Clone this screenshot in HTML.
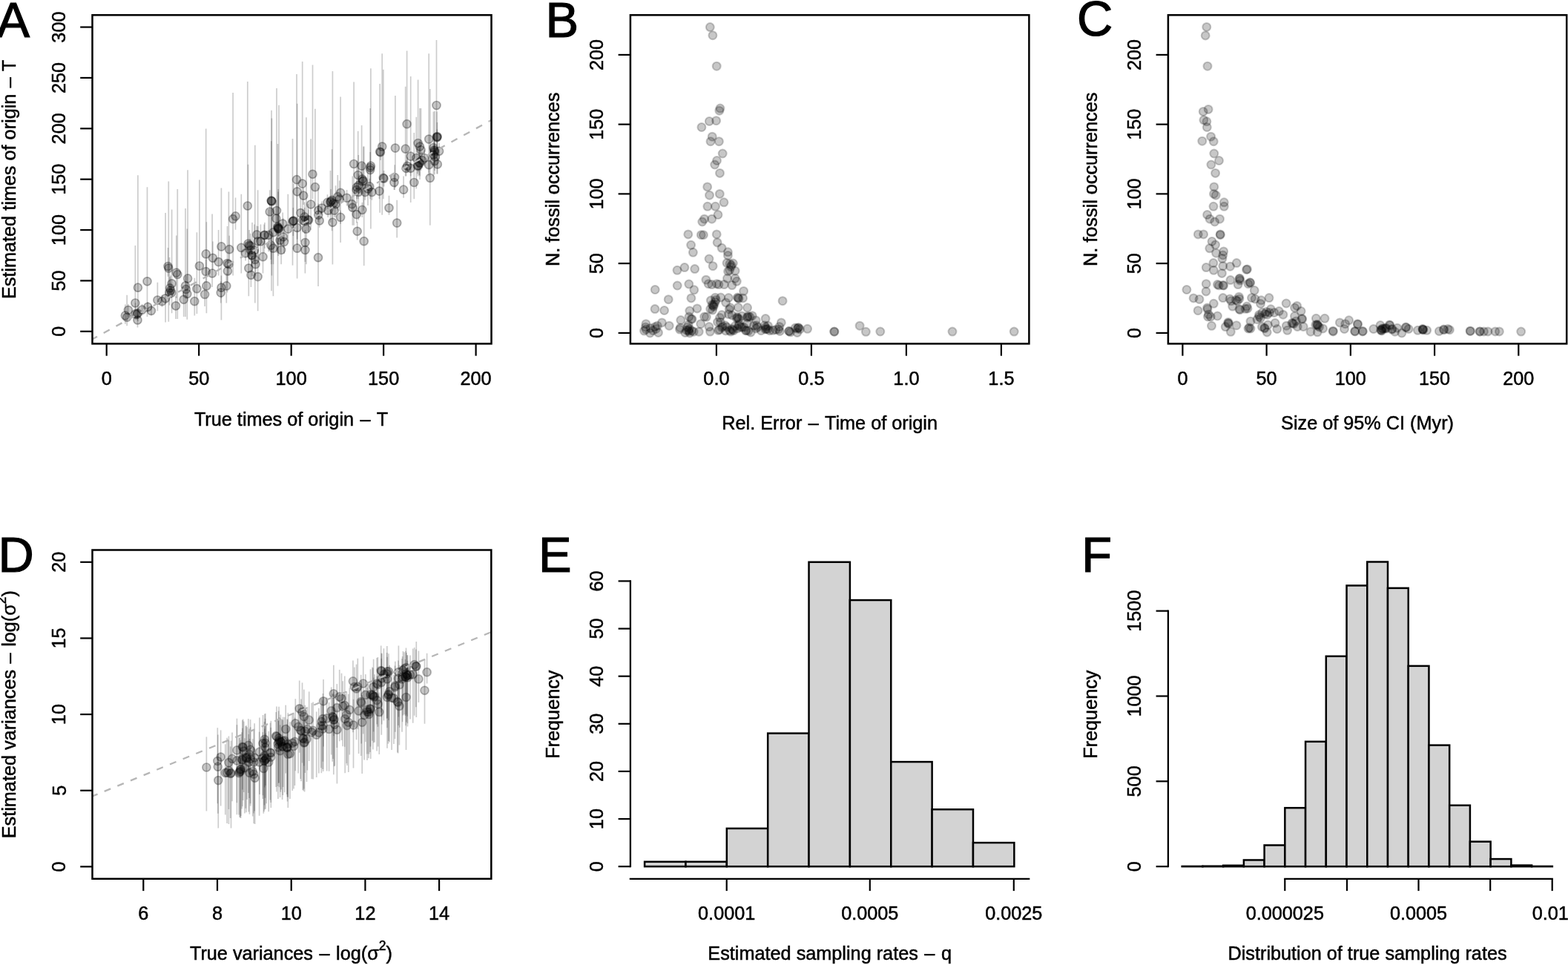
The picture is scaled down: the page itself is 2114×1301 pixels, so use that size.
<!DOCTYPE html>
<html><head><meta charset="utf-8"><title>Figure</title>
<style>
html,body{margin:0;padding:0;background:#fff;}
body{width:2114px;height:1301px;overflow:hidden;}
svg{display:block;font-family:'Liberation Sans', sans-serif;fill:#000;}
text{stroke:#000;stroke-width:0.5px;}
</style></head>
<body>
<svg width="2114" height="1301" viewBox="0 0 2114 1301">
<rect width="2114" height="1301" fill="#fff" stroke="none"/>
<clipPath id="cA"><rect x="124.5" y="20.3" width="538.0" height="443.09999999999997"/></clipPath>
<g clip-path="url(#cA)">
<g stroke="#000" stroke-opacity="0.2" stroke-width="1.7">
<line x1="171.2" y1="397.7" x2="171.2" y2="439.2"/>
<line x1="172.9" y1="410.0" x2="172.9" y2="426.9"/>
<line x1="182.4" y1="330.9" x2="182.4" y2="417.7"/>
<line x1="185.5" y1="423.8" x2="185.5" y2="441.5"/>
<line x1="185.5" y1="414.6" x2="185.5" y2="430.0"/>
<line x1="184.7" y1="416.1" x2="184.7" y2="431.5"/>
<line x1="191.6" y1="410.0" x2="191.6" y2="425.4"/>
<line x1="199.3" y1="406.9" x2="199.3" y2="420.8"/>
<line x1="203.9" y1="411.5" x2="203.9" y2="425.4"/>
<line x1="185.9" y1="236.2" x2="185.9" y2="433.0"/>
<line x1="198.5" y1="252.2" x2="198.5" y2="426.9"/>
<line x1="212.4" y1="380.8" x2="212.4" y2="419.2"/>
<line x1="218.5" y1="397.7" x2="218.5" y2="413.8"/>
<line x1="227.3" y1="244.5" x2="227.3" y2="433.8"/>
<line x1="228.5" y1="347.0" x2="228.5" y2="411.5"/>
<line x1="230.0" y1="371.6" x2="230.0" y2="402.3"/>
<line x1="231.6" y1="282.4" x2="231.6" y2="422.3"/>
<line x1="237.0" y1="399.2" x2="237.0" y2="430.0"/>
<line x1="239.3" y1="254.9" x2="239.3" y2="430.0"/>
<line x1="247.7" y1="386.9" x2="247.7" y2="426.9"/>
<line x1="250.0" y1="280.9" x2="250.0" y2="426.9"/>
<line x1="250.8" y1="371.6" x2="250.8" y2="402.3"/>
<line x1="252.3" y1="308.6" x2="252.3" y2="430.7"/>
<line x1="253.1" y1="229.3" x2="253.1" y2="402.3"/>
<line x1="262.3" y1="374.7" x2="262.3" y2="425.4"/>
<line x1="265.4" y1="313.2" x2="265.4" y2="423.1"/>
<line x1="268.9" y1="242.5" x2="268.9" y2="386.9"/>
<line x1="276.1" y1="379.3" x2="276.1" y2="413.1"/>
<line x1="277.7" y1="173.5" x2="277.7" y2="371.6"/>
<line x1="277.7" y1="350.1" x2="277.7" y2="380.8"/>
<line x1="278.4" y1="299.3" x2="278.4" y2="422.3"/>
<line x1="286.1" y1="288.6" x2="286.1" y2="386.9"/>
<line x1="286.9" y1="325.5" x2="286.9" y2="363.9"/>
<line x1="294.6" y1="310.1" x2="294.6" y2="371.6"/>
<line x1="298.4" y1="253.5" x2="298.4" y2="431.5"/>
<line x1="297.7" y1="379.3" x2="297.7" y2="408.5"/>
<line x1="298.4" y1="371.6" x2="298.4" y2="402.3"/>
<line x1="305.3" y1="368.5" x2="305.3" y2="408.5"/>
<line x1="306.9" y1="350.1" x2="306.9" y2="380.8"/>
<line x1="308.4" y1="258.5" x2="308.4" y2="371.6"/>
<line x1="309.2" y1="317.8" x2="309.2" y2="350.1"/>
<line x1="314.1" y1="125.1" x2="314.1" y2="371.6"/>
<line x1="325.3" y1="261.8" x2="325.3" y2="368.5"/>
<line x1="333.8" y1="110.0" x2="333.8" y2="340.8"/>
<line x1="334.5" y1="221.7" x2="334.5" y2="343.9"/>
<line x1="337.6" y1="314.7" x2="337.6" y2="345.5"/>
<line x1="335.3" y1="340.8" x2="335.3" y2="399.2"/>
<line x1="338.4" y1="356.2" x2="338.4" y2="386.9"/>
<line x1="339.2" y1="325.5" x2="339.2" y2="359.3"/>
<line x1="343.8" y1="195.8" x2="343.8" y2="408.5"/>
<line x1="344.5" y1="340.8" x2="344.5" y2="371.6"/>
<line x1="347.6" y1="256.3" x2="347.6" y2="419.2"/>
<line x1="351.4" y1="302.4" x2="351.4" y2="340.8"/>
<line x1="354.5" y1="325.5" x2="354.5" y2="368.5"/>
<line x1="356.1" y1="302.4" x2="356.1" y2="340.8"/>
<line x1="366.0" y1="148.7" x2="366.0" y2="392.3"/>
<line x1="366.4" y1="159.5" x2="366.4" y2="371.6"/>
<line x1="365.7" y1="190.2" x2="365.7" y2="356.2"/>
<line x1="363.7" y1="256.3" x2="363.7" y2="325.5"/>
<line x1="368.4" y1="279.4" x2="368.4" y2="399.2"/>
<line x1="368.4" y1="317.8" x2="368.4" y2="356.2"/>
<line x1="373.0" y1="118.9" x2="373.0" y2="340.8"/>
<line x1="374.5" y1="194.1" x2="374.5" y2="385.4"/>
<line x1="376.0" y1="141.7" x2="376.0" y2="325.5"/>
<line x1="377.6" y1="310.1" x2="377.6" y2="340.8"/>
<line x1="379.1" y1="322.4" x2="379.1" y2="356.2"/>
<line x1="388.3" y1="261.8" x2="388.3" y2="325.5"/>
<line x1="394.5" y1="186.9" x2="394.5" y2="357.7"/>
<line x1="400.6" y1="310.1" x2="400.6" y2="375.4"/>
<line x1="400.6" y1="291.7" x2="400.6" y2="322.4"/>
<line x1="405.2" y1="261.8" x2="405.2" y2="325.5"/>
<line x1="408.3" y1="282.4" x2="408.3" y2="313.2"/>
<line x1="411.4" y1="310.1" x2="411.4" y2="368.5"/>
<line x1="411.4" y1="322.4" x2="411.4" y2="353.1"/>
<line x1="412.9" y1="158.3" x2="412.9" y2="356.2"/>
<line x1="416.0" y1="282.4" x2="416.0" y2="313.2"/>
<line x1="419.1" y1="187.2" x2="419.1" y2="310.1"/>
<line x1="223.1" y1="287.1" x2="223.1" y2="434.6"/>
<line x1="400.0" y1="99.9" x2="400.0" y2="283.7"/>
<line x1="400.7" y1="139.8" x2="400.7" y2="329.9"/>
<line x1="407.7" y1="83.0" x2="407.7" y2="299.0"/>
<line x1="409.2" y1="252.9" x2="409.2" y2="276.0"/>
<line x1="421.5" y1="87.6" x2="421.5" y2="268.3"/>
<line x1="424.9" y1="146.8" x2="424.9" y2="283.7"/>
<line x1="429.2" y1="274.5" x2="429.2" y2="292.9"/>
<line x1="433.8" y1="271.4" x2="433.8" y2="289.8"/>
<line x1="429.2" y1="280.6" x2="429.2" y2="299.0"/>
<line x1="430.7" y1="288.3" x2="430.7" y2="306.7"/>
<line x1="441.5" y1="262.2" x2="441.5" y2="283.7"/>
<line x1="442.2" y1="274.5" x2="442.2" y2="292.9"/>
<line x1="447.6" y1="201.3" x2="447.6" y2="311.3"/>
<line x1="449.2" y1="265.2" x2="449.2" y2="283.7"/>
<line x1="448.4" y1="96.0" x2="448.4" y2="356.4"/>
<line x1="450.7" y1="274.5" x2="450.7" y2="292.9"/>
<line x1="455.3" y1="236.0" x2="455.3" y2="283.7"/>
<line x1="459.1" y1="130.6" x2="459.1" y2="326.9"/>
<line x1="459.1" y1="283.7" x2="459.1" y2="302.1"/>
<line x1="467.6" y1="256.0" x2="467.6" y2="277.5"/>
<line x1="474.5" y1="265.2" x2="474.5" y2="285.2"/>
<line x1="475.3" y1="237.6" x2="475.3" y2="303.7"/>
<line x1="477.1" y1="110.6" x2="477.1" y2="303.7"/>
<line x1="480.7" y1="243.7" x2="480.7" y2="268.3"/>
<line x1="480.7" y1="277.5" x2="480.7" y2="300.6"/>
<line x1="481.7" y1="299.0" x2="481.7" y2="323.6"/>
<line x1="482.7" y1="176.7" x2="482.7" y2="268.3"/>
<line x1="487.6" y1="169.0" x2="487.6" y2="260.6"/>
<line x1="488.3" y1="272.9" x2="488.3" y2="292.9"/>
<line x1="489.9" y1="197.5" x2="489.9" y2="283.7"/>
<line x1="489.1" y1="234.5" x2="489.1" y2="254.5"/>
<line x1="490.7" y1="197.5" x2="490.7" y2="358.2"/>
<line x1="492.2" y1="248.3" x2="492.2" y2="269.8"/>
<line x1="498.3" y1="240.7" x2="498.3" y2="262.2"/>
<line x1="499.1" y1="146.0" x2="499.1" y2="268.3"/>
<line x1="499.9" y1="92.2" x2="499.9" y2="308.4"/>
<line x1="501.4" y1="248.3" x2="501.4" y2="269.8"/>
<line x1="511.4" y1="246.8" x2="511.4" y2="268.3"/>
<line x1="512.2" y1="112.9" x2="512.2" y2="286.8"/>
<line x1="512.9" y1="194.5" x2="512.9" y2="216.1"/>
<line x1="515.2" y1="72.2" x2="515.2" y2="289.8"/>
<line x1="516.8" y1="93.7" x2="516.8" y2="268.3"/>
<line x1="517.5" y1="229.9" x2="517.5" y2="251.4"/>
<line x1="524.5" y1="263.7" x2="524.5" y2="289.8"/>
<line x1="531.4" y1="236.0" x2="531.4" y2="256.0"/>
<line x1="532.1" y1="222.2" x2="532.1" y2="256.0"/>
<line x1="532.9" y1="129.1" x2="532.9" y2="252.9"/>
<line x1="535.2" y1="269.8" x2="535.2" y2="320.4"/>
<line x1="544.1" y1="237.6" x2="544.1" y2="266.8"/>
<line x1="546.7" y1="116.8" x2="546.7" y2="237.6"/>
<line x1="547.5" y1="216.1" x2="547.5" y2="237.6"/>
<line x1="548.6" y1="68.4" x2="548.6" y2="229.9"/>
<line x1="553.7" y1="103.0" x2="553.7" y2="272.9"/>
<line x1="553.7" y1="216.1" x2="553.7" y2="237.6"/>
<line x1="558.3" y1="179.0" x2="558.3" y2="268.3"/>
<line x1="561.3" y1="157.7" x2="561.3" y2="254.5"/>
<line x1="562.9" y1="213.0" x2="562.9" y2="234.5"/>
<line x1="563.6" y1="107.6" x2="563.6" y2="237.6"/>
<line x1="566.0" y1="146.0" x2="566.0" y2="237.6"/>
<line x1="567.5" y1="146.0" x2="567.5" y2="229.9"/>
<line x1="569.0" y1="205.3" x2="569.0" y2="226.8"/>
<line x1="572.1" y1="202.2" x2="572.1" y2="223.7"/>
<line x1="578.2" y1="72.2" x2="578.2" y2="237.6"/>
<line x1="578.2" y1="211.5" x2="578.2" y2="233.0"/>
<line x1="579.8" y1="119.9" x2="579.8" y2="303.7"/>
<line x1="584.4" y1="150.6" x2="584.4" y2="237.6"/>
<line x1="585.9" y1="194.5" x2="585.9" y2="216.1"/>
<line x1="586.7" y1="200.7" x2="586.7" y2="222.2"/>
<line x1="588.5" y1="54.1" x2="588.5" y2="191.5"/>
<line x1="589.0" y1="150.6" x2="589.0" y2="234.5"/>
<line x1="589.3" y1="174.6" x2="589.3" y2="196.1"/>
<line x1="589.8" y1="209.9" x2="589.8" y2="234.5"/>
<line x1="592.1" y1="193.0" x2="592.1" y2="214.5"/>
<line x1="429.0" y1="253.1" x2="429.0" y2="385.9"/>
<line x1="374.6" y1="290.0" x2="374.6" y2="330.0"/>
<line x1="375.2" y1="255.0" x2="375.2" y2="345.0"/>
<line x1="395.3" y1="280.0" x2="395.3" y2="318.0"/>
<line x1="336.1" y1="310.0" x2="336.1" y2="350.0"/>
<line x1="340.0" y1="300.0" x2="340.0" y2="372.0"/>
<line x1="356.9" y1="300.0" x2="356.9" y2="335.0"/>
<line x1="347.7" y1="305.0" x2="347.7" y2="345.0"/>
<line x1="383.0" y1="308.0" x2="383.0" y2="342.0"/>
<line x1="372.3" y1="270.0" x2="372.3" y2="315.0"/>
<line x1="365.3" y1="315.0" x2="365.3" y2="350.0"/>
<line x1="446.0" y1="255.0" x2="446.0" y2="290.0"/>
<line x1="445.5" y1="230.0" x2="445.5" y2="300.0"/>
<line x1="410.7" y1="280.0" x2="410.7" y2="315.0"/>
<line x1="415.3" y1="275.0" x2="415.3" y2="312.0"/>
<line x1="585.3" y1="180.0" x2="585.3" y2="222.0"/>
<line x1="586.0" y1="150.0" x2="586.0" y2="230.0"/>
<line x1="565.3" y1="200.0" x2="565.3" y2="236.0"/>
<line x1="566.0" y1="190.0" x2="566.0" y2="242.0"/>
<line x1="488.4" y1="220.0" x2="488.4" y2="262.0"/>
<line x1="589.5" y1="165.0" x2="589.5" y2="200.0"/>
<line x1="499.2" y1="205.0" x2="499.2" y2="246.0"/>
<line x1="331.0" y1="326.3" x2="331.0" y2="351.5"/>
<line x1="337.4" y1="322.0" x2="337.4" y2="346.1"/>
<line x1="362.1" y1="281.9" x2="362.1" y2="339.3"/>
<line x1="342.9" y1="302.4" x2="342.9" y2="355.6"/>
<line x1="346.2" y1="304.4" x2="346.2" y2="325.7"/>
<line x1="381.8" y1="294.3" x2="381.8" y2="333.7"/>
<line x1="381.2" y1="286.6" x2="381.2" y2="309.9"/>
<line x1="375.0" y1="258.5" x2="375.0" y2="340.6"/>
<line x1="496.0" y1="219.5" x2="496.0" y2="277.0"/>
<line x1="483.3" y1="208.9" x2="483.3" y2="296.8"/>
<line x1="483.6" y1="234.9" x2="483.6" y2="260.3"/>
<line x1="481.1" y1="217.3" x2="481.1" y2="273.9"/>
<line x1="563.9" y1="211.3" x2="563.9" y2="231.7"/>
<line x1="584.6" y1="196.7" x2="584.6" y2="215.3"/>
<line x1="585.9" y1="182.3" x2="585.9" y2="235.3"/>
<line x1="549.1" y1="211.8" x2="549.1" y2="232.8"/>
<line x1="410.6" y1="272.4" x2="410.6" y2="305.2"/>
<line x1="395.8" y1="247.8" x2="395.8" y2="336.6"/>
<line x1="452.5" y1="250.3" x2="452.5" y2="293.2"/>
<line x1="457.7" y1="243.4" x2="457.7" y2="283.9"/>
<line x1="306.5" y1="305.1" x2="306.5" y2="394.2"/>
<line x1="317.5" y1="266.4" x2="317.5" y2="309.7"/>
<line x1="231.2" y1="382.8" x2="231.2" y2="402.1"/>
<line x1="229.1" y1="373.4" x2="229.1" y2="395.9"/>
<line x1="226.5" y1="334.0" x2="226.5" y2="372.7"/>
<line x1="182.6" y1="408.2" x2="182.6" y2="431.3"/>
<line x1="168.9" y1="410.4" x2="168.9" y2="436.8"/>
<line x1="237.8" y1="317.6" x2="237.8" y2="402.0"/>
</g>
<g fill="#000" fill-opacity="0.22" stroke="#000" stroke-opacity="0.3" stroke-width="1.7">
<circle cx="171.2" cy="427.7" r="5.5"/>
<circle cx="172.9" cy="418.1" r="5.5"/>
<circle cx="182.4" cy="408.5" r="5.5"/>
<circle cx="185.5" cy="431.5" r="5.5"/>
<circle cx="185.5" cy="422.3" r="5.5"/>
<circle cx="184.7" cy="423.8" r="5.5"/>
<circle cx="191.6" cy="417.7" r="5.5"/>
<circle cx="199.3" cy="413.8" r="5.5"/>
<circle cx="203.9" cy="418.9" r="5.5"/>
<circle cx="185.9" cy="387.7" r="5.5"/>
<circle cx="198.5" cy="379.3" r="5.5"/>
<circle cx="212.4" cy="404.6" r="5.5"/>
<circle cx="218.5" cy="406.2" r="5.5"/>
<circle cx="227.3" cy="361.6" r="5.5"/>
<circle cx="228.5" cy="394.6" r="5.5"/>
<circle cx="230.0" cy="391.6" r="5.5"/>
<circle cx="231.6" cy="382.3" r="5.5"/>
<circle cx="237.0" cy="412.3" r="5.5"/>
<circle cx="239.3" cy="370.0" r="5.5"/>
<circle cx="247.7" cy="403.8" r="5.5"/>
<circle cx="250.0" cy="385.4" r="5.5"/>
<circle cx="250.8" cy="390.0" r="5.5"/>
<circle cx="252.3" cy="396.2" r="5.5"/>
<circle cx="253.1" cy="375.4" r="5.5"/>
<circle cx="262.3" cy="406.2" r="5.5"/>
<circle cx="265.4" cy="389.2" r="5.5"/>
<circle cx="268.9" cy="358.5" r="5.5"/>
<circle cx="276.1" cy="396.9" r="5.5"/>
<circle cx="277.7" cy="342.4" r="5.5"/>
<circle cx="277.7" cy="366.2" r="5.5"/>
<circle cx="278.4" cy="385.4" r="5.5"/>
<circle cx="286.1" cy="368.5" r="5.5"/>
<circle cx="286.9" cy="347.8" r="5.5"/>
<circle cx="294.6" cy="353.1" r="5.5"/>
<circle cx="298.4" cy="332.4" r="5.5"/>
<circle cx="297.7" cy="394.6" r="5.5"/>
<circle cx="298.4" cy="387.7" r="5.5"/>
<circle cx="305.3" cy="385.4" r="5.5"/>
<circle cx="306.9" cy="365.4" r="5.5"/>
<circle cx="308.4" cy="356.2" r="5.5"/>
<circle cx="309.2" cy="336.2" r="5.5"/>
<circle cx="314.1" cy="295.2" r="5.5"/>
<circle cx="325.3" cy="333.9" r="5.5"/>
<circle cx="333.8" cy="277.5" r="5.5"/>
<circle cx="334.5" cy="328.5" r="5.5"/>
<circle cx="337.6" cy="331.6" r="5.5"/>
<circle cx="335.3" cy="361.6" r="5.5"/>
<circle cx="338.4" cy="370.8" r="5.5"/>
<circle cx="339.2" cy="343.9" r="5.5"/>
<circle cx="343.8" cy="350.1" r="5.5"/>
<circle cx="344.5" cy="356.2" r="5.5"/>
<circle cx="347.6" cy="373.1" r="5.5"/>
<circle cx="351.4" cy="325.5" r="5.5"/>
<circle cx="354.5" cy="346.2" r="5.5"/>
<circle cx="356.1" cy="317.0" r="5.5"/>
<circle cx="366.0" cy="270.9" r="5.5"/>
<circle cx="366.4" cy="271.4" r="5.5"/>
<circle cx="365.7" cy="270.5" r="5.5"/>
<circle cx="363.7" cy="285.5" r="5.5"/>
<circle cx="368.4" cy="313.2" r="5.5"/>
<circle cx="368.4" cy="334.7" r="5.5"/>
<circle cx="373.0" cy="284.0" r="5.5"/>
<circle cx="374.5" cy="305.5" r="5.5"/>
<circle cx="376.0" cy="308.6" r="5.5"/>
<circle cx="377.6" cy="323.9" r="5.5"/>
<circle cx="379.1" cy="337.0" r="5.5"/>
<circle cx="388.3" cy="308.6" r="5.5"/>
<circle cx="394.5" cy="298.6" r="5.5"/>
<circle cx="400.6" cy="334.7" r="5.5"/>
<circle cx="400.6" cy="307.0" r="5.5"/>
<circle cx="405.2" cy="287.1" r="5.5"/>
<circle cx="408.3" cy="297.0" r="5.5"/>
<circle cx="411.4" cy="327.0" r="5.5"/>
<circle cx="411.4" cy="337.0" r="5.5"/>
<circle cx="412.9" cy="308.6" r="5.5"/>
<circle cx="416.0" cy="297.0" r="5.5"/>
<circle cx="419.1" cy="275.5" r="5.5"/>
<circle cx="223.1" cy="402.3" r="5.5"/>
<circle cx="400.0" cy="242.2" r="5.5"/>
<circle cx="400.7" cy="258.3" r="5.5"/>
<circle cx="407.7" cy="247.6" r="5.5"/>
<circle cx="409.2" cy="263.7" r="5.5"/>
<circle cx="421.5" cy="234.8" r="5.5"/>
<circle cx="424.9" cy="252.2" r="5.5"/>
<circle cx="429.2" cy="283.7" r="5.5"/>
<circle cx="433.8" cy="280.6" r="5.5"/>
<circle cx="429.2" cy="289.8" r="5.5"/>
<circle cx="430.7" cy="297.5" r="5.5"/>
<circle cx="441.5" cy="272.9" r="5.5"/>
<circle cx="442.2" cy="283.7" r="5.5"/>
<circle cx="447.6" cy="269.8" r="5.5"/>
<circle cx="449.2" cy="274.5" r="5.5"/>
<circle cx="448.4" cy="299.8" r="5.5"/>
<circle cx="450.7" cy="283.7" r="5.5"/>
<circle cx="455.3" cy="265.2" r="5.5"/>
<circle cx="459.1" cy="259.9" r="5.5"/>
<circle cx="459.1" cy="292.9" r="5.5"/>
<circle cx="467.6" cy="266.8" r="5.5"/>
<circle cx="474.5" cy="275.2" r="5.5"/>
<circle cx="475.3" cy="279.8" r="5.5"/>
<circle cx="477.1" cy="221.0" r="5.5"/>
<circle cx="480.7" cy="256.0" r="5.5"/>
<circle cx="480.7" cy="289.1" r="5.5"/>
<circle cx="481.7" cy="311.8" r="5.5"/>
<circle cx="482.7" cy="236.0" r="5.5"/>
<circle cx="487.6" cy="223.7" r="5.5"/>
<circle cx="488.3" cy="282.9" r="5.5"/>
<circle cx="489.9" cy="243.7" r="5.5"/>
<circle cx="489.1" cy="244.5" r="5.5"/>
<circle cx="490.7" cy="325.2" r="5.5"/>
<circle cx="492.2" cy="259.1" r="5.5"/>
<circle cx="498.3" cy="251.4" r="5.5"/>
<circle cx="499.1" cy="229.1" r="5.5"/>
<circle cx="499.9" cy="223.7" r="5.5"/>
<circle cx="501.4" cy="259.1" r="5.5"/>
<circle cx="511.4" cy="257.6" r="5.5"/>
<circle cx="512.2" cy="204.5" r="5.5"/>
<circle cx="512.9" cy="205.3" r="5.5"/>
<circle cx="515.2" cy="197.6" r="5.5"/>
<circle cx="516.8" cy="239.9" r="5.5"/>
<circle cx="517.5" cy="240.7" r="5.5"/>
<circle cx="524.5" cy="280.3" r="5.5"/>
<circle cx="531.4" cy="246.0" r="5.5"/>
<circle cx="532.1" cy="239.1" r="5.5"/>
<circle cx="532.9" cy="199.6" r="5.5"/>
<circle cx="535.2" cy="300.6" r="5.5"/>
<circle cx="544.1" cy="255.7" r="5.5"/>
<circle cx="546.7" cy="200.7" r="5.5"/>
<circle cx="547.5" cy="226.8" r="5.5"/>
<circle cx="548.6" cy="167.2" r="5.5"/>
<circle cx="553.7" cy="210.7" r="5.5"/>
<circle cx="553.7" cy="226.8" r="5.5"/>
<circle cx="558.3" cy="246.0" r="5.5"/>
<circle cx="561.3" cy="213.0" r="5.5"/>
<circle cx="562.9" cy="223.7" r="5.5"/>
<circle cx="563.6" cy="193.0" r="5.5"/>
<circle cx="566.0" cy="197.6" r="5.5"/>
<circle cx="567.5" cy="202.2" r="5.5"/>
<circle cx="569.0" cy="216.1" r="5.5"/>
<circle cx="572.1" cy="213.0" r="5.5"/>
<circle cx="578.2" cy="187.6" r="5.5"/>
<circle cx="578.2" cy="222.2" r="5.5"/>
<circle cx="579.8" cy="239.9" r="5.5"/>
<circle cx="584.4" cy="199.2" r="5.5"/>
<circle cx="585.9" cy="205.3" r="5.5"/>
<circle cx="586.7" cy="211.5" r="5.5"/>
<circle cx="588.5" cy="142.0" r="5.5"/>
<circle cx="589.0" cy="184.6" r="5.5"/>
<circle cx="589.3" cy="185.3" r="5.5"/>
<circle cx="589.8" cy="221.4" r="5.5"/>
<circle cx="592.1" cy="203.8" r="5.5"/>
<circle cx="429.0" cy="347.2" r="5.5"/>
<circle cx="374.6" cy="306.9" r="5.5"/>
<circle cx="375.2" cy="307.5" r="5.5"/>
<circle cx="395.3" cy="297.7" r="5.5"/>
<circle cx="336.1" cy="330.7" r="5.5"/>
<circle cx="340.0" cy="344.5" r="5.5"/>
<circle cx="356.9" cy="316.9" r="5.5"/>
<circle cx="347.7" cy="325.3" r="5.5"/>
<circle cx="383.0" cy="326.1" r="5.5"/>
<circle cx="372.3" cy="294.6" r="5.5"/>
<circle cx="365.3" cy="330.7" r="5.5"/>
<circle cx="446.0" cy="271.5" r="5.5"/>
<circle cx="445.5" cy="272.5" r="5.5"/>
<circle cx="410.7" cy="297.7" r="5.5"/>
<circle cx="415.3" cy="296.1" r="5.5"/>
<circle cx="585.3" cy="202.3" r="5.5"/>
<circle cx="586.0" cy="203.5" r="5.5"/>
<circle cx="565.3" cy="219.2" r="5.5"/>
<circle cx="566.0" cy="220.0" r="5.5"/>
<circle cx="488.4" cy="241.5" r="5.5"/>
<circle cx="589.5" cy="184.0" r="5.5"/>
<circle cx="499.2" cy="226.0" r="5.5"/>
<circle cx="331.0" cy="341.3" r="5.5"/>
<circle cx="337.4" cy="337.0" r="5.5"/>
<circle cx="362.1" cy="316.9" r="5.5"/>
<circle cx="342.9" cy="337.4" r="5.5"/>
<circle cx="346.2" cy="316.4" r="5.5"/>
<circle cx="381.8" cy="319.3" r="5.5"/>
<circle cx="381.2" cy="301.6" r="5.5"/>
<circle cx="375.0" cy="308.5" r="5.5"/>
<circle cx="496.0" cy="254.5" r="5.5"/>
<circle cx="483.3" cy="258.9" r="5.5"/>
<circle cx="483.6" cy="249.9" r="5.5"/>
<circle cx="481.1" cy="252.3" r="5.5"/>
<circle cx="563.9" cy="223.3" r="5.5"/>
<circle cx="584.6" cy="208.7" r="5.5"/>
<circle cx="585.9" cy="217.3" r="5.5"/>
<circle cx="549.1" cy="223.8" r="5.5"/>
<circle cx="410.6" cy="292.4" r="5.5"/>
<circle cx="395.8" cy="297.8" r="5.5"/>
<circle cx="452.5" cy="275.3" r="5.5"/>
<circle cx="457.7" cy="268.4" r="5.5"/>
<circle cx="306.5" cy="355.1" r="5.5"/>
<circle cx="317.5" cy="291.4" r="5.5"/>
<circle cx="231.2" cy="394.8" r="5.5"/>
<circle cx="229.1" cy="388.4" r="5.5"/>
<circle cx="226.5" cy="359.0" r="5.5"/>
<circle cx="182.6" cy="423.2" r="5.5"/>
<circle cx="168.9" cy="425.4" r="5.5"/>
<circle cx="237.8" cy="367.6" r="5.5"/>
</g>
<line x1="124.50" y1="457.35" x2="662.50" y2="161.82" stroke="#b6b6b6" stroke-width="2.3" stroke-dasharray="9.2 9.9" stroke-dashoffset="1.75"/>
</g>
<rect x="124.50" y="20.30" width="538.00" height="443.10" fill="none" stroke="#000" stroke-width="2.5"/>
<line x1="143.70" y1="463.40" x2="143.70" y2="479.70" stroke="#000" stroke-width="2.2" />
<text x="143.70" y="518.60" font-size="25.25" text-anchor="middle" >0</text>
<line x1="268.18" y1="463.40" x2="268.18" y2="479.70" stroke="#000" stroke-width="2.2" />
<text x="268.18" y="518.60" font-size="25.25" text-anchor="middle" >50</text>
<line x1="392.65" y1="463.40" x2="392.65" y2="479.70" stroke="#000" stroke-width="2.2" />
<text x="392.65" y="518.60" font-size="25.25" text-anchor="middle" >100</text>
<line x1="517.12" y1="463.40" x2="517.12" y2="479.70" stroke="#000" stroke-width="2.2" />
<text x="517.12" y="518.60" font-size="25.25" text-anchor="middle" >150</text>
<line x1="641.60" y1="463.40" x2="641.60" y2="479.70" stroke="#000" stroke-width="2.2" />
<text x="641.60" y="518.60" font-size="25.25" text-anchor="middle" >200</text>
<line x1="108.20" y1="446.80" x2="124.50" y2="446.80" stroke="#000" stroke-width="2.2" />
<text x="88.50" y="446.80" font-size="25.25" text-anchor="middle" transform="rotate(-90 88.50 446.80)" >0</text>
<line x1="108.20" y1="378.43" x2="124.50" y2="378.43" stroke="#000" stroke-width="2.2" />
<text x="88.50" y="378.43" font-size="25.25" text-anchor="middle" transform="rotate(-90 88.50 378.43)" >50</text>
<line x1="108.20" y1="310.05" x2="124.50" y2="310.05" stroke="#000" stroke-width="2.2" />
<text x="88.50" y="310.05" font-size="25.25" text-anchor="middle" transform="rotate(-90 88.50 310.05)" >100</text>
<line x1="108.20" y1="241.68" x2="124.50" y2="241.68" stroke="#000" stroke-width="2.2" />
<text x="88.50" y="241.68" font-size="25.25" text-anchor="middle" transform="rotate(-90 88.50 241.68)" >150</text>
<line x1="108.20" y1="173.30" x2="124.50" y2="173.30" stroke="#000" stroke-width="2.2" />
<text x="88.50" y="173.30" font-size="25.25" text-anchor="middle" transform="rotate(-90 88.50 173.30)" >200</text>
<line x1="108.20" y1="104.93" x2="124.50" y2="104.93" stroke="#000" stroke-width="2.2" />
<text x="88.50" y="104.93" font-size="25.25" text-anchor="middle" transform="rotate(-90 88.50 104.93)" >250</text>
<line x1="108.20" y1="36.55" x2="124.50" y2="36.55" stroke="#000" stroke-width="2.2" />
<text x="88.50" y="36.55" font-size="25.25" text-anchor="middle" transform="rotate(-90 88.50 36.55)" >300</text>
<text x="392.50" y="573.70" font-size="25.25" text-anchor="middle" >True times of origin <tspan dx="1.5">–</tspan><tspan dx="1.5"> </tspan>T</text>
<text x="21.50" y="241.85" font-size="25.25" text-anchor="middle" transform="rotate(-90 21.50 241.85)" >Estimated times of origin <tspan dx="1.5">–</tspan><tspan dx="1.5"> </tspan>T</text>
<text x="-4.60" y="50.30" font-size="66.8" text-anchor="start" style="stroke-width:1.2px">A</text>
<g fill="#000" fill-opacity="0.22" stroke="#000" stroke-opacity="0.2" stroke-width="2.0">
<circle cx="957.3" cy="36.6" r="5.5"/>
<circle cx="960.9" cy="47.7" r="5.5"/>
<circle cx="966.2" cy="89.2" r="5.5"/>
<circle cx="970.9" cy="146.1" r="5.5"/>
<circle cx="969.9" cy="149.2" r="5.5"/>
<circle cx="965.6" cy="162.7" r="5.5"/>
<circle cx="956.3" cy="163.5" r="5.5"/>
<circle cx="945.9" cy="171.5" r="5.5"/>
<circle cx="960.2" cy="184.2" r="5.5"/>
<circle cx="958.0" cy="190.7" r="5.5"/>
<circle cx="969.4" cy="190.7" r="5.5"/>
<circle cx="974.2" cy="207.0" r="5.5"/>
<circle cx="966.5" cy="216.5" r="5.5"/>
<circle cx="963.7" cy="222.0" r="5.5"/>
<circle cx="970.5" cy="233.4" r="5.5"/>
<circle cx="953.7" cy="251.9" r="5.5"/>
<circle cx="956.5" cy="263.2" r="5.5"/>
<circle cx="970.3" cy="261.4" r="5.5"/>
<circle cx="976.0" cy="272.8" r="5.5"/>
<circle cx="953.9" cy="278.3" r="5.5"/>
<circle cx="964.5" cy="278.3" r="5.5"/>
<circle cx="968.0" cy="289.5" r="5.5"/>
<circle cx="959.7" cy="295.2" r="5.5"/>
<circle cx="949.6" cy="295.2" r="5.5"/>
<circle cx="946.8" cy="299.0" r="5.5"/>
<circle cx="927.8" cy="315.9" r="5.5"/>
<circle cx="945.3" cy="316.7" r="5.5"/>
<circle cx="948.4" cy="316.7" r="5.5"/>
<circle cx="966.2" cy="315.9" r="5.5"/>
<circle cx="967.1" cy="326.9" r="5.5"/>
<circle cx="931.6" cy="330.3" r="5.5"/>
<circle cx="934.4" cy="340.3" r="5.5"/>
<circle cx="973.1" cy="334.3" r="5.5"/>
<circle cx="981.4" cy="339.8" r="5.5"/>
<circle cx="981.4" cy="344.4" r="5.5"/>
<circle cx="956.0" cy="349.0" r="5.5"/>
<circle cx="961.1" cy="358.7" r="5.5"/>
<circle cx="980.0" cy="354.6" r="5.5"/>
<circle cx="988.3" cy="355.0" r="5.5"/>
<circle cx="985.6" cy="359.7" r="5.5"/>
<circle cx="983.7" cy="364.3" r="5.5"/>
<circle cx="991.1" cy="365.2" r="5.5"/>
<circle cx="922.9" cy="360.6" r="5.5"/>
<circle cx="913.0" cy="364.3" r="5.5"/>
<circle cx="936.7" cy="362.6" r="5.5"/>
<circle cx="951.9" cy="377.2" r="5.5"/>
<circle cx="980.5" cy="375.3" r="5.5"/>
<circle cx="991.1" cy="375.3" r="5.5"/>
<circle cx="955.1" cy="382.7" r="5.5"/>
<circle cx="959.7" cy="383.6" r="5.5"/>
<circle cx="966.2" cy="382.7" r="5.5"/>
<circle cx="969.0" cy="383.6" r="5.5"/>
<circle cx="976.3" cy="383.6" r="5.5"/>
<circle cx="986.9" cy="384.6" r="5.5"/>
<circle cx="928.8" cy="383.0" r="5.5"/>
<circle cx="913.2" cy="385.0" r="5.5"/>
<circle cx="883.2" cy="390.5" r="5.5"/>
<circle cx="935.8" cy="390.8" r="5.5"/>
<circle cx="1002.6" cy="392.4" r="5.5"/>
<circle cx="901.2" cy="403.7" r="5.5"/>
<circle cx="931.9" cy="401.9" r="5.5"/>
<circle cx="883.0" cy="416.6" r="5.5"/>
<circle cx="895.6" cy="418.5" r="5.5"/>
<circle cx="939.9" cy="415.9" r="5.5"/>
<circle cx="929.8" cy="419.1" r="5.5"/>
<circle cx="917.8" cy="431.6" r="5.5"/>
<circle cx="933.0" cy="430.2" r="5.5"/>
<circle cx="949.6" cy="427.0" r="5.5"/>
<circle cx="870.9" cy="436.7" r="5.5"/>
<circle cx="870.3" cy="441.0" r="5.5"/>
<circle cx="870.9" cy="444.1" r="5.5"/>
<circle cx="876.4" cy="449.0" r="5.5"/>
<circle cx="892.4" cy="434.9" r="5.5"/>
<circle cx="886.3" cy="439.2" r="5.5"/>
<circle cx="884.4" cy="443.5" r="5.5"/>
<circle cx="887.5" cy="448.4" r="5.5"/>
<circle cx="902.2" cy="439.2" r="5.5"/>
<circle cx="916.4" cy="444.1" r="5.5"/>
<circle cx="926.8" cy="441.0" r="5.5"/>
<circle cx="925.6" cy="445.3" r="5.5"/>
<circle cx="928.7" cy="446.5" r="5.5"/>
<circle cx="923.8" cy="448.4" r="5.5"/>
<circle cx="929.9" cy="449.0" r="5.5"/>
<circle cx="928.1" cy="437.9" r="5.5"/>
<circle cx="942.2" cy="447.2" r="5.5"/>
<circle cx="944.7" cy="436.7" r="5.5"/>
<circle cx="1055.1" cy="405.7" r="5.5"/>
<circle cx="1042.2" cy="445.3" r="5.5"/>
<circle cx="1053.3" cy="434.9" r="5.5"/>
<circle cx="1050.8" cy="440.4" r="5.5"/>
<circle cx="1049.6" cy="444.1" r="5.5"/>
<circle cx="1051.4" cy="446.5" r="5.5"/>
<circle cx="1063.7" cy="446.5" r="5.5"/>
<circle cx="1065.6" cy="447.8" r="5.5"/>
<circle cx="1076.6" cy="441.9" r="5.5"/>
<circle cx="1078.4" cy="443.8" r="5.5"/>
<circle cx="1074.8" cy="448.4" r="5.5"/>
<circle cx="1088.6" cy="443.3" r="5.5"/>
<circle cx="1124.8" cy="447.0" r="5.5"/>
<circle cx="1124.8" cy="447.2" r="5.5"/>
<circle cx="1159.1" cy="439.2" r="5.5"/>
<circle cx="1167.4" cy="447.3" r="5.5"/>
<circle cx="1186.8" cy="447.0" r="5.5"/>
<circle cx="1284.0" cy="447.1" r="5.5"/>
<circle cx="1367.2" cy="447.1" r="5.5"/>
<circle cx="1063.9" cy="446.5" r="5.5"/>
<circle cx="958.3" cy="405.1" r="5.5"/>
<circle cx="965.2" cy="404.2" r="5.5"/>
<circle cx="964.3" cy="407.0" r="5.5"/>
<circle cx="962.9" cy="410.2" r="5.5"/>
<circle cx="962.0" cy="413.4" r="5.5"/>
<circle cx="960.6" cy="418.1" r="5.5"/>
<circle cx="971.7" cy="401.0" r="5.5"/>
<circle cx="982.3" cy="401.5" r="5.5"/>
<circle cx="994.3" cy="401.0" r="5.5"/>
<circle cx="996.1" cy="402.4" r="5.5"/>
<circle cx="995.2" cy="401.9" r="5.5"/>
<circle cx="1001.6" cy="401.9" r="5.5"/>
<circle cx="978.6" cy="407.9" r="5.5"/>
<circle cx="984.6" cy="414.8" r="5.5"/>
<circle cx="983.2" cy="417.1" r="5.5"/>
<circle cx="995.2" cy="414.4" r="5.5"/>
<circle cx="1007.6" cy="414.8" r="5.5"/>
<circle cx="982.3" cy="423.6" r="5.5"/>
<circle cx="986.9" cy="425.0" r="5.5"/>
<circle cx="993.8" cy="427.3" r="5.5"/>
<circle cx="996.1" cy="430.0" r="5.5"/>
<circle cx="994.7" cy="428.7" r="5.5"/>
<circle cx="1007.6" cy="428.2" r="5.5"/>
<circle cx="1011.3" cy="427.3" r="5.5"/>
<circle cx="952.3" cy="427.3" r="5.5"/>
<circle cx="973.1" cy="424.5" r="5.5"/>
<circle cx="967.5" cy="434.2" r="5.5"/>
<circle cx="956.0" cy="440.6" r="5.5"/>
<circle cx="957.4" cy="447.1" r="5.5"/>
<circle cx="968.4" cy="445.3" r="5.5"/>
<circle cx="977.7" cy="438.8" r="5.5"/>
<circle cx="980.0" cy="441.1" r="5.5"/>
<circle cx="986.9" cy="443.4" r="5.5"/>
<circle cx="989.2" cy="445.7" r="5.5"/>
<circle cx="985.0" cy="447.1" r="5.5"/>
<circle cx="987.8" cy="444.8" r="5.5"/>
<circle cx="996.1" cy="438.8" r="5.5"/>
<circle cx="998.4" cy="441.1" r="5.5"/>
<circle cx="1003.0" cy="441.1" r="5.5"/>
<circle cx="1005.3" cy="445.7" r="5.5"/>
<circle cx="1012.2" cy="448.0" r="5.5"/>
<circle cx="1019.2" cy="431.9" r="5.5"/>
<circle cx="1020.1" cy="438.8" r="5.5"/>
<circle cx="1021.5" cy="441.1" r="5.5"/>
<circle cx="1032.1" cy="429.6" r="5.5"/>
<circle cx="1030.7" cy="438.8" r="5.5"/>
<circle cx="1032.1" cy="441.1" r="5.5"/>
<circle cx="1033.0" cy="443.4" r="5.5"/>
<circle cx="1026.1" cy="445.7" r="5.5"/>
<circle cx="1037.6" cy="445.7" r="5.5"/>
<circle cx="868.5" cy="446.1" r="5.5"/>
<circle cx="883.0" cy="440.7" r="5.5"/>
<circle cx="876.8" cy="442.5" r="5.5"/>
<circle cx="880.4" cy="445.6" r="5.5"/>
<circle cx="935.2" cy="447.2" r="5.5"/>
<circle cx="917.2" cy="441.9" r="5.5"/>
<circle cx="932.8" cy="445.9" r="5.5"/>
<circle cx="929.5" cy="443.3" r="5.5"/>
<circle cx="928.2" cy="445.1" r="5.5"/>
<circle cx="960.1" cy="410.8" r="5.5"/>
<circle cx="961.6" cy="412.0" r="5.5"/>
<circle cx="964.3" cy="401.2" r="5.5"/>
<circle cx="957.7" cy="416.6" r="5.5"/>
<circle cx="983.9" cy="355.7" r="5.5"/>
<circle cx="986.1" cy="357.5" r="5.5"/>
<circle cx="981.5" cy="365.8" r="5.5"/>
<circle cx="993.3" cy="379.3" r="5.5"/>
<circle cx="1000.5" cy="441.2" r="5.5"/>
<circle cx="1009.0" cy="446.1" r="5.5"/>
<circle cx="1006.3" cy="445.6" r="5.5"/>
<circle cx="971.3" cy="434.4" r="5.5"/>
<circle cx="1016.3" cy="438.9" r="5.5"/>
<circle cx="1014.2" cy="425.7" r="5.5"/>
<circle cx="992.9" cy="429.0" r="5.5"/>
<circle cx="996.6" cy="437.1" r="5.5"/>
<circle cx="970.5" cy="428.3" r="5.5"/>
<circle cx="983.6" cy="445.5" r="5.5"/>
<circle cx="1007.5" cy="426.9" r="5.5"/>
<circle cx="1009.1" cy="426.4" r="5.5"/>
<circle cx="1000.2" cy="426.1" r="5.5"/>
<circle cx="970.0" cy="444.4" r="5.5"/>
<circle cx="1045.9" cy="444.4" r="5.5"/>
<circle cx="1035.4" cy="439.2" r="5.5"/>
<circle cx="1019.1" cy="442.9" r="5.5"/>
<circle cx="1034.9" cy="443.8" r="5.5"/>
<circle cx="1031.7" cy="443.9" r="5.5"/>
<circle cx="1072.2" cy="442.1" r="5.5"/>
<circle cx="1076.2" cy="441.7" r="5.5"/>
<circle cx="1074.8" cy="443.1" r="5.5"/>
<circle cx="931.9" cy="430.2" r="5.5"/>
<circle cx="929.0" cy="427.0" r="5.5"/>
<circle cx="990.7" cy="439.8" r="5.5"/>
<circle cx="978.3" cy="445.9" r="5.5"/>
<circle cx="973.2" cy="441.4" r="5.5"/>
<circle cx="1007.5" cy="436.2" r="5.5"/>
<circle cx="994.2" cy="442.8" r="5.5"/>
<circle cx="974.5" cy="439.9" r="5.5"/>
</g>
<rect x="849.90" y="20.30" width="537.50" height="443.10" fill="none" stroke="#000" stroke-width="2.5"/>
<line x1="965.90" y1="463.40" x2="965.90" y2="479.70" stroke="#000" stroke-width="2.2" />
<text x="965.90" y="518.60" font-size="25.25" text-anchor="middle" >0.0</text>
<line x1="1093.90" y1="463.40" x2="1093.90" y2="479.70" stroke="#000" stroke-width="2.2" />
<text x="1093.90" y="518.60" font-size="25.25" text-anchor="middle" >0.5</text>
<line x1="1221.90" y1="463.40" x2="1221.90" y2="479.70" stroke="#000" stroke-width="2.2" />
<text x="1221.90" y="518.60" font-size="25.25" text-anchor="middle" >1.0</text>
<line x1="1349.90" y1="463.40" x2="1349.90" y2="479.70" stroke="#000" stroke-width="2.2" />
<text x="1349.90" y="518.60" font-size="25.25" text-anchor="middle" >1.5</text>
<line x1="833.60" y1="448.90" x2="849.90" y2="448.90" stroke="#000" stroke-width="2.2" />
<text x="813.40" y="448.90" font-size="25.25" text-anchor="middle" transform="rotate(-90 813.40 448.90)" >0</text>
<line x1="833.60" y1="355.15" x2="849.90" y2="355.15" stroke="#000" stroke-width="2.2" />
<text x="813.40" y="355.15" font-size="25.25" text-anchor="middle" transform="rotate(-90 813.40 355.15)" >50</text>
<line x1="833.60" y1="261.40" x2="849.90" y2="261.40" stroke="#000" stroke-width="2.2" />
<text x="813.40" y="261.40" font-size="25.25" text-anchor="middle" transform="rotate(-90 813.40 261.40)" >100</text>
<line x1="833.60" y1="167.65" x2="849.90" y2="167.65" stroke="#000" stroke-width="2.2" />
<text x="813.40" y="167.65" font-size="25.25" text-anchor="middle" transform="rotate(-90 813.40 167.65)" >150</text>
<line x1="833.60" y1="73.90" x2="849.90" y2="73.90" stroke="#000" stroke-width="2.2" />
<text x="813.40" y="73.90" font-size="25.25" text-anchor="middle" transform="rotate(-90 813.40 73.90)" >200</text>
<text x="1118.65" y="578.70" font-size="25.25" text-anchor="middle" >Rel. Error <tspan dx="1.5">–</tspan><tspan dx="1.5"> </tspan>Time of origin</text>
<text x="754.50" y="241.85" font-size="25.25" text-anchor="middle" transform="rotate(-90 754.50 241.85)" >N. fossil occurrences</text>
<text x="735.60" y="50.30" font-size="66.8" text-anchor="start" style="stroke-width:1.2px">B</text>
<g fill="#000" fill-opacity="0.22" stroke="#000" stroke-opacity="0.2" stroke-width="2.0">
<circle cx="1626.8" cy="36.4" r="5.5"/>
<circle cx="1625.2" cy="47.9" r="5.5"/>
<circle cx="1628.0" cy="89.2" r="5.5"/>
<circle cx="1629.1" cy="147.4" r="5.5"/>
<circle cx="1622.2" cy="150.4" r="5.5"/>
<circle cx="1622.9" cy="161.8" r="5.5"/>
<circle cx="1626.9" cy="163.8" r="5.5"/>
<circle cx="1627.3" cy="171.5" r="5.5"/>
<circle cx="1632.6" cy="184.2" r="5.5"/>
<circle cx="1620.8" cy="190.2" r="5.5"/>
<circle cx="1636.2" cy="190.7" r="5.5"/>
<circle cx="1636.8" cy="207.0" r="5.5"/>
<circle cx="1643.5" cy="216.5" r="5.5"/>
<circle cx="1632.9" cy="222.0" r="5.5"/>
<circle cx="1638.6" cy="233.4" r="5.5"/>
<circle cx="1636.8" cy="251.9" r="5.5"/>
<circle cx="1636.5" cy="261.4" r="5.5"/>
<circle cx="1639.2" cy="263.2" r="5.5"/>
<circle cx="1650.3" cy="272.8" r="5.5"/>
<circle cx="1636.0" cy="278.3" r="5.5"/>
<circle cx="1650.3" cy="278.3" r="5.5"/>
<circle cx="1627.6" cy="289.5" r="5.5"/>
<circle cx="1644.5" cy="295.2" r="5.5"/>
<circle cx="1631.1" cy="295.2" r="5.5"/>
<circle cx="1637.7" cy="299.0" r="5.5"/>
<circle cx="1615.3" cy="315.9" r="5.5"/>
<circle cx="1622.6" cy="315.9" r="5.5"/>
<circle cx="1645.2" cy="315.9" r="5.5"/>
<circle cx="1645.2" cy="316.7" r="5.5"/>
<circle cx="1634.0" cy="325.5" r="5.5"/>
<circle cx="1638.6" cy="330.1" r="5.5"/>
<circle cx="1630.8" cy="334.8" r="5.5"/>
<circle cx="1639.6" cy="341.2" r="5.5"/>
<circle cx="1649.7" cy="338.9" r="5.5"/>
<circle cx="1648.8" cy="344.0" r="5.5"/>
<circle cx="1647.9" cy="348.6" r="5.5"/>
<circle cx="1635.9" cy="354.6" r="5.5"/>
<circle cx="1667.2" cy="354.6" r="5.5"/>
<circle cx="1626.2" cy="360.6" r="5.5"/>
<circle cx="1648.8" cy="358.7" r="5.5"/>
<circle cx="1658.5" cy="359.2" r="5.5"/>
<circle cx="1636.3" cy="364.3" r="5.5"/>
<circle cx="1681.5" cy="362.9" r="5.5"/>
<circle cx="1647.4" cy="368.4" r="5.5"/>
<circle cx="1658.9" cy="377.6" r="5.5"/>
<circle cx="1671.4" cy="375.3" r="5.5"/>
<circle cx="1671.8" cy="378.1" r="5.5"/>
<circle cx="1669.1" cy="383.6" r="5.5"/>
<circle cx="1685.7" cy="381.3" r="5.5"/>
<circle cx="1682.9" cy="382.7" r="5.5"/>
<circle cx="1626.2" cy="382.7" r="5.5"/>
<circle cx="1641.4" cy="383.6" r="5.5"/>
<circle cx="1648.8" cy="384.6" r="5.5"/>
<circle cx="1649.7" cy="385.0" r="5.5"/>
<circle cx="1599.9" cy="390.5" r="5.5"/>
<circle cx="1626.0" cy="392.9" r="5.5"/>
<circle cx="1691.2" cy="391.5" r="5.5"/>
<circle cx="1609.1" cy="401.9" r="5.5"/>
<circle cx="1617.0" cy="403.5" r="5.5"/>
<circle cx="1648.8" cy="401.6" r="5.5"/>
<circle cx="1670.4" cy="400.2" r="5.5"/>
<circle cx="1670.9" cy="403.0" r="5.5"/>
<circle cx="1659.8" cy="405.8" r="5.5"/>
<circle cx="1658.0" cy="403.0" r="5.5"/>
<circle cx="1687.5" cy="401.6" r="5.5"/>
<circle cx="1692.1" cy="403.0" r="5.5"/>
<circle cx="1700.4" cy="404.8" r="5.5"/>
<circle cx="1711.0" cy="401.6" r="5.5"/>
<circle cx="1699.5" cy="409.5" r="5.5"/>
<circle cx="1636.3" cy="409.3" r="5.5"/>
<circle cx="1627.6" cy="415.0" r="5.5"/>
<circle cx="1628.0" cy="416.8" r="5.5"/>
<circle cx="1615.1" cy="418.7" r="5.5"/>
<circle cx="1670.9" cy="416.8" r="5.5"/>
<circle cx="1671.8" cy="417.7" r="5.5"/>
<circle cx="1681.0" cy="413.1" r="5.5"/>
<circle cx="1682.0" cy="415.9" r="5.5"/>
<circle cx="1661.7" cy="413.1" r="5.5"/>
<circle cx="1734.1" cy="409.0" r="5.5"/>
<circle cx="1745.6" cy="415.0" r="5.5"/>
<circle cx="1713.3" cy="416.8" r="5.5"/>
<circle cx="1711.5" cy="421.4" r="5.5"/>
<circle cx="1708.7" cy="424.2" r="5.5"/>
<circle cx="1717.9" cy="421.4" r="5.5"/>
<circle cx="1697.6" cy="427.0" r="5.5"/>
<circle cx="1699.5" cy="428.8" r="5.5"/>
<circle cx="1694.9" cy="430.7" r="5.5"/>
<circle cx="1724.4" cy="419.6" r="5.5"/>
<circle cx="1729.9" cy="424.2" r="5.5"/>
<circle cx="1628.5" cy="427.0" r="5.5"/>
<circle cx="1632.2" cy="427.0" r="5.5"/>
<circle cx="1641.4" cy="426.0" r="5.5"/>
<circle cx="1633.5" cy="439.3" r="5.5"/>
<circle cx="1655.9" cy="434.4" r="5.5"/>
<circle cx="1656.5" cy="436.3" r="5.5"/>
<circle cx="1652.2" cy="440.6" r="5.5"/>
<circle cx="1667.0" cy="438.7" r="5.5"/>
<circle cx="1659.3" cy="447.3" r="5.5"/>
<circle cx="1686.0" cy="433.2" r="5.5"/>
<circle cx="1684.2" cy="441.8" r="5.5"/>
<circle cx="1683.0" cy="443.0" r="5.5"/>
<circle cx="1686.0" cy="443.0" r="5.5"/>
<circle cx="1701.4" cy="440.6" r="5.5"/>
<circle cx="1709.4" cy="438.1" r="5.5"/>
<circle cx="1708.2" cy="447.9" r="5.5"/>
<circle cx="1748.6" cy="412.4" r="5.5"/>
<circle cx="1754.1" cy="419.5" r="5.5"/>
<circle cx="1745.5" cy="426.3" r="5.5"/>
<circle cx="1755.3" cy="429.6" r="5.5"/>
<circle cx="1755.6" cy="430.3" r="5.5"/>
<circle cx="1741.8" cy="435.5" r="5.5"/>
<circle cx="1744.3" cy="436.7" r="5.5"/>
<circle cx="1734.4" cy="439.2" r="5.5"/>
<circle cx="1735.6" cy="445.3" r="5.5"/>
<circle cx="1749.2" cy="440.4" r="5.5"/>
<circle cx="1757.2" cy="440.4" r="5.5"/>
<circle cx="1719.1" cy="435.5" r="5.5"/>
<circle cx="1721.8" cy="443.5" r="5.5"/>
<circle cx="1774.4" cy="429.3" r="5.5"/>
<circle cx="1786.0" cy="429.3" r="5.5"/>
<circle cx="1773.8" cy="437.9" r="5.5"/>
<circle cx="1776.8" cy="439.2" r="5.5"/>
<circle cx="1778.7" cy="441.0" r="5.5"/>
<circle cx="1767.0" cy="447.2" r="5.5"/>
<circle cx="1776.2" cy="447.8" r="5.5"/>
<circle cx="1783.6" cy="442.9" r="5.5"/>
<circle cx="1797.1" cy="446.2" r="5.5"/>
<circle cx="1797.4" cy="446.9" r="5.5"/>
<circle cx="1806.3" cy="434.9" r="5.5"/>
<circle cx="1813.7" cy="436.7" r="5.5"/>
<circle cx="1812.5" cy="443.5" r="5.5"/>
<circle cx="1818.6" cy="431.8" r="5.5"/>
<circle cx="1830.3" cy="436.7" r="5.5"/>
<circle cx="1830.6" cy="437.3" r="5.5"/>
<circle cx="1826.6" cy="446.5" r="5.5"/>
<circle cx="1826.9" cy="446.9" r="5.5"/>
<circle cx="1837.0" cy="446.9" r="5.5"/>
<circle cx="1837.4" cy="446.5" r="5.5"/>
<circle cx="1851.8" cy="443.5" r="5.5"/>
<circle cx="1861.0" cy="438.6" r="5.5"/>
<circle cx="1862.2" cy="445.3" r="5.5"/>
<circle cx="1862.9" cy="445.9" r="5.5"/>
<circle cx="1861.6" cy="444.7" r="5.5"/>
<circle cx="1868.4" cy="442.2" r="5.5"/>
<circle cx="1869.0" cy="442.9" r="5.5"/>
<circle cx="1873.3" cy="437.9" r="5.5"/>
<circle cx="1873.9" cy="438.6" r="5.5"/>
<circle cx="1876.4" cy="444.1" r="5.5"/>
<circle cx="1877.0" cy="443.5" r="5.5"/>
<circle cx="1880.7" cy="447.2" r="5.5"/>
<circle cx="1883.8" cy="442.2" r="5.5"/>
<circle cx="1889.9" cy="449.0" r="5.5"/>
<circle cx="1895.4" cy="441.0" r="5.5"/>
<circle cx="1895.7" cy="441.6" r="5.5"/>
<circle cx="1899.1" cy="443.5" r="5.5"/>
<circle cx="1918.2" cy="444.1" r="5.5"/>
<circle cx="1918.5" cy="444.7" r="5.5"/>
<circle cx="1917.9" cy="443.5" r="5.5"/>
<circle cx="1918.8" cy="444.4" r="5.5"/>
<circle cx="1911.4" cy="445.3" r="5.5"/>
<circle cx="1923.7" cy="445.3" r="5.5"/>
<circle cx="1940.3" cy="446.5" r="5.5"/>
<circle cx="1946.4" cy="444.1" r="5.5"/>
<circle cx="1946.7" cy="444.7" r="5.5"/>
<circle cx="1952.0" cy="443.5" r="5.5"/>
<circle cx="1954.4" cy="444.7" r="5.5"/>
<circle cx="1982.1" cy="446.2" r="5.5"/>
<circle cx="1982.4" cy="446.4" r="5.5"/>
<circle cx="1995.0" cy="446.9" r="5.5"/>
<circle cx="1995.3" cy="446.9" r="5.5"/>
<circle cx="2000.5" cy="446.9" r="5.5"/>
<circle cx="2006.0" cy="446.9" r="5.5"/>
<circle cx="2015.9" cy="446.9" r="5.5"/>
<circle cx="2021.4" cy="446.9" r="5.5"/>
<circle cx="2050.7" cy="447.1" r="5.5"/>
<circle cx="1680.5" cy="363.5" r="5.5"/>
<circle cx="1643.3" cy="384.8" r="5.5"/>
<circle cx="1671.0" cy="376.1" r="5.5"/>
<circle cx="1685.2" cy="380.8" r="5.5"/>
<circle cx="1666.2" cy="404.5" r="5.5"/>
<circle cx="1668.1" cy="405.7" r="5.5"/>
<circle cx="1679.1" cy="416.3" r="5.5"/>
<circle cx="1701.9" cy="421.3" r="5.5"/>
<circle cx="1707.4" cy="420.5" r="5.5"/>
<circle cx="1705.5" cy="423.2" r="5.5"/>
<circle cx="1697.4" cy="424.5" r="5.5"/>
<circle cx="1705.1" cy="442.8" r="5.5"/>
<circle cx="1704.7" cy="442.0" r="5.5"/>
<circle cx="1747.4" cy="432.9" r="5.5"/>
<circle cx="1742.9" cy="436.0" r="5.5"/>
<circle cx="1775.9" cy="438.1" r="5.5"/>
<circle cx="1775.9" cy="437.4" r="5.5"/>
<circle cx="1863.6" cy="443.1" r="5.5"/>
<circle cx="1866.5" cy="442.8" r="5.5"/>
<circle cx="1864.0" cy="443.2" r="5.5"/>
<circle cx="1629.4" cy="423.9" r="5.5"/>
<circle cx="1655.7" cy="435.8" r="5.5"/>
</g>
<rect x="1574.90" y="20.30" width="537.30" height="443.10" fill="none" stroke="#000" stroke-width="2.5"/>
<line x1="1594.40" y1="463.40" x2="1594.40" y2="479.70" stroke="#000" stroke-width="2.2" />
<text x="1594.40" y="518.60" font-size="25.25" text-anchor="middle" >0</text>
<line x1="1707.62" y1="463.40" x2="1707.62" y2="479.70" stroke="#000" stroke-width="2.2" />
<text x="1707.62" y="518.60" font-size="25.25" text-anchor="middle" >50</text>
<line x1="1820.85" y1="463.40" x2="1820.85" y2="479.70" stroke="#000" stroke-width="2.2" />
<text x="1820.85" y="518.60" font-size="25.25" text-anchor="middle" >100</text>
<line x1="1934.08" y1="463.40" x2="1934.08" y2="479.70" stroke="#000" stroke-width="2.2" />
<text x="1934.08" y="518.60" font-size="25.25" text-anchor="middle" >150</text>
<line x1="2047.30" y1="463.40" x2="2047.30" y2="479.70" stroke="#000" stroke-width="2.2" />
<text x="2047.30" y="518.60" font-size="25.25" text-anchor="middle" >200</text>
<line x1="1558.60" y1="448.90" x2="1574.90" y2="448.90" stroke="#000" stroke-width="2.2" />
<text x="1538.40" y="448.90" font-size="25.25" text-anchor="middle" transform="rotate(-90 1538.40 448.90)" >0</text>
<line x1="1558.60" y1="355.15" x2="1574.90" y2="355.15" stroke="#000" stroke-width="2.2" />
<text x="1538.40" y="355.15" font-size="25.25" text-anchor="middle" transform="rotate(-90 1538.40 355.15)" >50</text>
<line x1="1558.60" y1="261.40" x2="1574.90" y2="261.40" stroke="#000" stroke-width="2.2" />
<text x="1538.40" y="261.40" font-size="25.25" text-anchor="middle" transform="rotate(-90 1538.40 261.40)" >100</text>
<line x1="1558.60" y1="167.65" x2="1574.90" y2="167.65" stroke="#000" stroke-width="2.2" />
<text x="1538.40" y="167.65" font-size="25.25" text-anchor="middle" transform="rotate(-90 1538.40 167.65)" >150</text>
<line x1="1558.60" y1="73.90" x2="1574.90" y2="73.90" stroke="#000" stroke-width="2.2" />
<text x="1538.40" y="73.90" font-size="25.25" text-anchor="middle" transform="rotate(-90 1538.40 73.90)" >200</text>
<text x="1843.55" y="578.70" font-size="25.25" text-anchor="middle" >Size of 95% CI (Myr)</text>
<text x="1479.50" y="241.85" font-size="25.25" text-anchor="middle" transform="rotate(-90 1479.50 241.85)" >N. fossil occurrences</text>
<text x="1452.00" y="48.20" font-size="66.8" text-anchor="start" style="stroke-width:1.2px">C</text>
<clipPath id="cD"><rect x="124.5" y="741.5" width="537.8" height="443.29999999999995"/></clipPath>
<g clip-path="url(#cD)">
<g stroke="#000" stroke-opacity="0.2" stroke-width="1.7">
<line x1="278.4" y1="993.4" x2="278.4" y2="1093.4"/>
<line x1="293.3" y1="981.2" x2="293.3" y2="1083.2"/>
<line x1="293.8" y1="990.5" x2="293.8" y2="1096.7"/>
<line x1="297.6" y1="984.4" x2="297.6" y2="1086.4"/>
<line x1="294.3" y1="1016.0" x2="294.3" y2="1116.5"/>
<line x1="313.0" y1="987.4" x2="313.0" y2="1080.2"/>
<line x1="308.4" y1="998.3" x2="308.4" y2="1111.1"/>
<line x1="310.7" y1="1006.5" x2="310.7" y2="1102.9"/>
<line x1="311.5" y1="998.7" x2="311.5" y2="1116.6"/>
<line x1="324.5" y1="997.8" x2="324.5" y2="1103.1"/>
<line x1="322.2" y1="994.4" x2="322.2" y2="1098.4"/>
<line x1="323.0" y1="994.5" x2="323.0" y2="1101.7"/>
<line x1="326.8" y1="970.9" x2="326.8" y2="1064.4"/>
<line x1="327.6" y1="969.5" x2="327.6" y2="1079.1"/>
<line x1="326.1" y1="987.3" x2="326.1" y2="1090.6"/>
<line x1="326.8" y1="981.7" x2="326.8" y2="1087.2"/>
<line x1="333.0" y1="980.2" x2="333.0" y2="1077.8"/>
<line x1="336.1" y1="982.6" x2="336.1" y2="1076.1"/>
<line x1="337.6" y1="980.2" x2="337.6" y2="1086.6"/>
<line x1="335.3" y1="989.8" x2="335.3" y2="1094.4"/>
<line x1="329.9" y1="995.2" x2="329.9" y2="1096.5"/>
<line x1="342.2" y1="983.4" x2="342.2" y2="1096.6"/>
<line x1="342.2" y1="1007.3" x2="342.2" y2="1110.2"/>
<line x1="337.6" y1="970.1" x2="337.6" y2="1083.3"/>
<line x1="355.3" y1="993.5" x2="355.3" y2="1096.7"/>
<line x1="349.9" y1="967.4" x2="349.9" y2="1071.0"/>
<line x1="354.5" y1="964.0" x2="354.5" y2="1072.2"/>
<line x1="356.8" y1="962.5" x2="356.8" y2="1061.5"/>
<line x1="356.0" y1="993.2" x2="356.0" y2="1094.3"/>
<line x1="356.8" y1="982.4" x2="356.8" y2="1091.6"/>
<line x1="359.1" y1="977.9" x2="359.1" y2="1083.3"/>
<line x1="362.2" y1="985.9" x2="362.2" y2="1094.2"/>
<line x1="364.5" y1="974.6" x2="364.5" y2="1078.4"/>
<line x1="365.3" y1="971.8" x2="365.3" y2="1088.9"/>
<line x1="357.6" y1="968.8" x2="357.6" y2="1075.7"/>
<line x1="372.2" y1="960.0" x2="372.2" y2="1060.9"/>
<line x1="372.9" y1="952.6" x2="372.9" y2="1067.5"/>
<line x1="376.0" y1="952.7" x2="376.0" y2="1055.6"/>
<line x1="378.3" y1="963.5" x2="378.3" y2="1067.8"/>
<line x1="379.1" y1="969.4" x2="379.1" y2="1064.5"/>
<line x1="374.5" y1="969.4" x2="374.5" y2="1059.9"/>
<line x1="383.7" y1="966.8" x2="383.7" y2="1068.2"/>
<line x1="385.2" y1="950.6" x2="385.2" y2="1042.4"/>
<line x1="380.6" y1="969.7" x2="380.6" y2="1078.0"/>
<line x1="386.8" y1="975.9" x2="386.8" y2="1071.0"/>
<line x1="387.5" y1="970.2" x2="387.5" y2="1080.5"/>
<line x1="388.3" y1="961.1" x2="388.3" y2="1074.7"/>
<line x1="377.6" y1="977.3" x2="377.6" y2="1075.1"/>
<line x1="388.3" y1="981.3" x2="388.3" y2="1088.9"/>
<line x1="396.0" y1="962.6" x2="396.0" y2="1063.4"/>
<line x1="397.5" y1="967.5" x2="397.5" y2="1058.9"/>
<line x1="398.3" y1="942.2" x2="398.3" y2="1039.3"/>
<line x1="403.7" y1="917.5" x2="403.7" y2="1014.8"/>
<line x1="402.1" y1="950.2" x2="402.1" y2="1042.6"/>
<line x1="405.2" y1="949.9" x2="405.2" y2="1050.1"/>
<line x1="406.0" y1="942.5" x2="406.0" y2="1053.3"/>
<line x1="409.8" y1="929.6" x2="409.8" y2="1032.6"/>
<line x1="416.7" y1="932.4" x2="416.7" y2="1025.9"/>
<line x1="408.3" y1="953.4" x2="408.3" y2="1065.1"/>
<line x1="409.1" y1="954.5" x2="409.1" y2="1066.2"/>
<line x1="409.8" y1="966.7" x2="409.8" y2="1063.6"/>
<line x1="410.6" y1="970.0" x2="410.6" y2="1067.5"/>
<line x1="414.4" y1="953.1" x2="414.4" y2="1038.4"/>
<line x1="426.7" y1="959.5" x2="426.7" y2="1047.9"/>
<line x1="429.8" y1="954.7" x2="429.8" y2="1042.6"/>
<line x1="432.9" y1="950.4" x2="432.9" y2="1035.3"/>
<line x1="436.0" y1="916.1" x2="436.0" y2="1006.4"/>
<line x1="440.6" y1="940.5" x2="440.6" y2="1039.6"/>
<line x1="443.6" y1="947.0" x2="443.6" y2="1039.7"/>
<line x1="448.2" y1="935.5" x2="448.2" y2="1026.7"/>
<line x1="449.0" y1="934.7" x2="449.0" y2="1023.0"/>
<line x1="449.8" y1="931.8" x2="449.8" y2="1044.2"/>
<line x1="450.6" y1="936.4" x2="450.6" y2="1033.2"/>
<line x1="451.3" y1="948.7" x2="451.3" y2="1032.5"/>
<line x1="446.7" y1="926.4" x2="446.7" y2="1017.4"/>
<line x1="449.8" y1="896.7" x2="449.8" y2="992.2"/>
<line x1="454.4" y1="956.7" x2="454.4" y2="1056.4"/>
<line x1="460.5" y1="907.7" x2="460.5" y2="997.9"/>
<line x1="462.1" y1="918.3" x2="462.1" y2="1006.3"/>
<line x1="465.2" y1="935.6" x2="465.2" y2="1042.2"/>
<line x1="469.8" y1="935.8" x2="469.8" y2="1041.1"/>
<line x1="471.3" y1="927.4" x2="471.3" y2="1017.6"/>
<line x1="475.9" y1="890.5" x2="475.9" y2="987.2"/>
<line x1="480.5" y1="895.7" x2="480.5" y2="997.3"/>
<line x1="483.6" y1="928.6" x2="483.6" y2="1016.1"/>
<line x1="486.7" y1="909.8" x2="486.7" y2="1019.0"/>
<line x1="488.2" y1="937.0" x2="488.2" y2="1043.0"/>
<line x1="489.7" y1="885.3" x2="489.7" y2="989.4"/>
<line x1="492.8" y1="909.1" x2="492.8" y2="1000.3"/>
<line x1="497.4" y1="933.7" x2="497.4" y2="1016.6"/>
<line x1="499.0" y1="930.7" x2="499.0" y2="1013.9"/>
<line x1="499.7" y1="928.2" x2="499.7" y2="1022.9"/>
<line x1="502.0" y1="899.4" x2="502.0" y2="998.8"/>
<line x1="502.8" y1="900.5" x2="502.8" y2="1010.4"/>
<line x1="503.6" y1="888.7" x2="503.6" y2="986.4"/>
<line x1="509.7" y1="922.4" x2="509.7" y2="1006.6"/>
<line x1="511.3" y1="933.6" x2="511.3" y2="1016.9"/>
<line x1="514.3" y1="887.8" x2="514.3" y2="990.8"/>
<line x1="517.4" y1="874.2" x2="517.4" y2="971.6"/>
<line x1="522.0" y1="907.8" x2="522.0" y2="1008.7"/>
<line x1="524.0" y1="881.2" x2="524.0" y2="971.1"/>
<line x1="525.1" y1="896.7" x2="525.1" y2="1000.6"/>
<line x1="532.8" y1="891.7" x2="532.8" y2="986.7"/>
<line x1="535.8" y1="921.4" x2="535.8" y2="1014.4"/>
<line x1="536.6" y1="920.0" x2="536.6" y2="1015.4"/>
<line x1="537.4" y1="870.4" x2="537.4" y2="966.6"/>
<line x1="542.0" y1="887.9" x2="542.0" y2="986.7"/>
<line x1="513.7" y1="870.5" x2="513.7" y2="960.4"/>
<line x1="575.6" y1="880.7" x2="575.6" y2="921.6"/>
<line x1="572.5" y1="888.9" x2="572.5" y2="975.8"/>
<line x1="564.4" y1="877.6" x2="564.4" y2="947.1"/>
<line x1="560.8" y1="875.4" x2="560.8" y2="953.3"/>
<line x1="561.3" y1="865.1" x2="561.3" y2="966.9"/>
<line x1="558.7" y1="873.0" x2="558.7" y2="964.8"/>
<line x1="556.7" y1="874.5" x2="556.7" y2="974.7"/>
<line x1="547.5" y1="873.6" x2="547.5" y2="963.4"/>
<line x1="546.5" y1="888.9" x2="546.5" y2="965.0"/>
<line x1="547.0" y1="877.7" x2="547.0" y2="978.3"/>
<line x1="547.5" y1="911.0" x2="547.5" y2="1011.0"/>
<line x1="420.3" y1="947.7" x2="420.3" y2="1050.3"/>
<line x1="547.9" y1="879.9" x2="547.9" y2="973.6"/>
<line x1="537.0" y1="890.6" x2="537.0" y2="978.0"/>
<line x1="505.0" y1="909.3" x2="505.0" y2="1000.8"/>
<line x1="523.9" y1="912.7" x2="523.9" y2="999.1"/>
<line x1="319.4" y1="968.7" x2="319.4" y2="1082.3"/>
<line x1="387.4" y1="969.3" x2="387.4" y2="1074.3"/>
<line x1="435.7" y1="941.0" x2="435.7" y2="1040.0"/>
<line x1="457.7" y1="902.9" x2="457.7" y2="999.3"/>
<line x1="357.8" y1="961.9" x2="357.8" y2="1058.9"/>
<line x1="343.1" y1="975.2" x2="343.1" y2="1093.6"/>
<line x1="308.4" y1="992.5" x2="308.4" y2="1091.1"/>
<line x1="508.1" y1="911.5" x2="508.1" y2="1012.5"/>
<line x1="376.5" y1="967.1" x2="376.5" y2="1061.2"/>
<line x1="324.1" y1="1003.6" x2="324.1" y2="1102.3"/>
<line x1="435.4" y1="935.0" x2="435.4" y2="1026.8"/>
<line x1="521.7" y1="879.9" x2="521.7" y2="968.9"/>
<line x1="356.5" y1="973.0" x2="356.5" y2="1085.6"/>
<line x1="306.1" y1="994.7" x2="306.1" y2="1110.0"/>
<line x1="328.7" y1="972.6" x2="328.7" y2="1068.0"/>
<line x1="477.8" y1="899.5" x2="477.8" y2="981.1"/>
<line x1="467.3" y1="932.1" x2="467.3" y2="1029.2"/>
<line x1="349.6" y1="986.7" x2="349.6" y2="1099.7"/>
<line x1="358.1" y1="988.4" x2="358.1" y2="1090.8"/>
<line x1="509.4" y1="886.0" x2="509.4" y2="979.7"/>
<line x1="411.3" y1="950.7" x2="411.3" y2="1042.0"/>
<line x1="324.7" y1="992.6" x2="324.7" y2="1100.0"/>
<line x1="413.5" y1="963.3" x2="413.5" y2="1054.1"/>
<line x1="522.0" y1="885.8" x2="522.0" y2="981.3"/>
<line x1="482.3" y1="887.7" x2="482.3" y2="983.1"/>
<line x1="303.8" y1="1003.3" x2="303.8" y2="1098.4"/>
<line x1="381.6" y1="966.6" x2="381.6" y2="1061.0"/>
<line x1="422.1" y1="946.6" x2="422.1" y2="1050.6"/>
<line x1="343.6" y1="1009.2" x2="343.6" y2="1111.0"/>
<line x1="394.2" y1="962.8" x2="394.2" y2="1065.9"/>
<line x1="514.4" y1="880.4" x2="514.4" y2="966.7"/>
<line x1="407.5" y1="920.4" x2="407.5" y2="1028.4"/>
<line x1="549.4" y1="890.8" x2="549.4" y2="975.3"/>
<line x1="332.0" y1="978.1" x2="332.0" y2="1095.2"/>
<line x1="454.3" y1="922.1" x2="454.3" y2="1008.0"/>
<line x1="319.4" y1="977.2" x2="319.4" y2="1098.3"/>
<line x1="514.7" y1="881.3" x2="514.7" y2="976.4"/>
<line x1="435.2" y1="944.3" x2="435.2" y2="1037.0"/>
<line x1="464.7" y1="911.5" x2="464.7" y2="1006.8"/>
<line x1="538.4" y1="926.3" x2="538.4" y2="1004.6"/>
<line x1="374.9" y1="969.0" x2="374.9" y2="1077.1"/>
<line x1="390.9" y1="973.3" x2="390.9" y2="1077.1"/>
<line x1="495.0" y1="921.2" x2="495.0" y2="1025.1"/>
<line x1="365.2" y1="980.9" x2="365.2" y2="1081.9"/>
<line x1="336.4" y1="996.0" x2="336.4" y2="1097.8"/>
<line x1="334.8" y1="969.1" x2="334.8" y2="1069.1"/>
<line x1="381.3" y1="970.8" x2="381.3" y2="1071.9"/>
<line x1="496.8" y1="922.0" x2="496.8" y2="1022.2"/>
<line x1="331.3" y1="979.0" x2="331.3" y2="1089.8"/>
<line x1="375.6" y1="958.5" x2="375.6" y2="1055.7"/>
<line x1="340.7" y1="996.1" x2="340.7" y2="1100.4"/>
<line x1="530.9" y1="910.1" x2="530.9" y2="1003.0"/>
<line x1="487.2" y1="917.7" x2="487.2" y2="1002.5"/>
<line x1="354.3" y1="987.1" x2="354.3" y2="1077.0"/>
<line x1="433.4" y1="941.7" x2="433.4" y2="1042.2"/>
<line x1="553.0" y1="883.5" x2="553.0" y2="969.6"/>
<line x1="532.5" y1="897.4" x2="532.5" y2="996.2"/>
<line x1="503.7" y1="913.5" x2="503.7" y2="1001.3"/>
<line x1="494.9" y1="927.0" x2="494.9" y2="1016.6"/>
<line x1="549.5" y1="883.3" x2="549.5" y2="979.6"/>
<line x1="476.5" y1="942.8" x2="476.5" y2="1035.4"/>
<line x1="549.1" y1="883.3" x2="549.1" y2="965.8"/>
<line x1="528.1" y1="904.3" x2="528.1" y2="1011.0"/>
<line x1="542.6" y1="884.9" x2="542.6" y2="973.2"/>
<line x1="523.4" y1="906.7" x2="523.4" y2="1002.7"/>
<line x1="491.1" y1="930.1" x2="491.1" y2="1024.4"/>
<line x1="538.6" y1="896.8" x2="538.6" y2="980.8"/>
<line x1="521.8" y1="871.0" x2="521.8" y2="968.1"/>
<line x1="467.9" y1="951.6" x2="467.9" y2="1032.0"/>
<line x1="508.2" y1="886.9" x2="508.2" y2="976.4"/>
<line x1="543.4" y1="877.9" x2="543.4" y2="964.6"/>
<line x1="545.0" y1="879.3" x2="545.0" y2="963.3"/>
<line x1="499.5" y1="902.3" x2="499.5" y2="1006.5"/>
</g>
<g fill="#000" fill-opacity="0.22" stroke="#000" stroke-opacity="0.27" stroke-width="1.7">
<circle cx="278.4" cy="1034.5" r="5.5"/>
<circle cx="293.3" cy="1026.0" r="5.5"/>
<circle cx="293.8" cy="1033.7" r="5.5"/>
<circle cx="297.6" cy="1020.6" r="5.5"/>
<circle cx="294.3" cy="1052.1" r="5.5"/>
<circle cx="313.0" cy="1022.9" r="5.5"/>
<circle cx="308.4" cy="1039.1" r="5.5"/>
<circle cx="310.7" cy="1042.9" r="5.5"/>
<circle cx="311.5" cy="1042.2" r="5.5"/>
<circle cx="324.5" cy="1039.8" r="5.5"/>
<circle cx="322.2" cy="1042.2" r="5.5"/>
<circle cx="323.0" cy="1040.6" r="5.5"/>
<circle cx="326.8" cy="1006.8" r="5.5"/>
<circle cx="327.6" cy="1007.6" r="5.5"/>
<circle cx="326.1" cy="1023.7" r="5.5"/>
<circle cx="326.8" cy="1024.5" r="5.5"/>
<circle cx="333.0" cy="1021.4" r="5.5"/>
<circle cx="336.1" cy="1016.8" r="5.5"/>
<circle cx="337.6" cy="1022.9" r="5.5"/>
<circle cx="335.3" cy="1027.6" r="5.5"/>
<circle cx="329.9" cy="1035.2" r="5.5"/>
<circle cx="342.2" cy="1027.6" r="5.5"/>
<circle cx="342.2" cy="1043.7" r="5.5"/>
<circle cx="337.6" cy="1010.7" r="5.5"/>
<circle cx="355.3" cy="1036.0" r="5.5"/>
<circle cx="349.9" cy="1013.7" r="5.5"/>
<circle cx="354.5" cy="1002.2" r="5.5"/>
<circle cx="356.8" cy="996.8" r="5.5"/>
<circle cx="356.0" cy="1026.0" r="5.5"/>
<circle cx="356.8" cy="1025.2" r="5.5"/>
<circle cx="359.1" cy="1022.2" r="5.5"/>
<circle cx="362.2" cy="1027.6" r="5.5"/>
<circle cx="364.5" cy="1014.5" r="5.5"/>
<circle cx="365.3" cy="1015.3" r="5.5"/>
<circle cx="357.6" cy="1007.6" r="5.5"/>
<circle cx="372.2" cy="992.2" r="5.5"/>
<circle cx="372.9" cy="993.0" r="5.5"/>
<circle cx="376.0" cy="995.3" r="5.5"/>
<circle cx="378.3" cy="999.9" r="5.5"/>
<circle cx="379.1" cy="1000.7" r="5.5"/>
<circle cx="374.5" cy="1003.0" r="5.5"/>
<circle cx="383.7" cy="998.4" r="5.5"/>
<circle cx="385.2" cy="983.0" r="5.5"/>
<circle cx="380.6" cy="1006.0" r="5.5"/>
<circle cx="386.8" cy="1007.6" r="5.5"/>
<circle cx="387.5" cy="1008.3" r="5.5"/>
<circle cx="388.3" cy="1003.0" r="5.5"/>
<circle cx="377.6" cy="1012.2" r="5.5"/>
<circle cx="388.3" cy="1016.8" r="5.5"/>
<circle cx="396.0" cy="1006.0" r="5.5"/>
<circle cx="397.5" cy="999.9" r="5.5"/>
<circle cx="398.3" cy="975.3" r="5.5"/>
<circle cx="403.7" cy="955.3" r="5.5"/>
<circle cx="402.1" cy="979.9" r="5.5"/>
<circle cx="405.2" cy="984.5" r="5.5"/>
<circle cx="406.0" cy="985.3" r="5.5"/>
<circle cx="409.8" cy="966.1" r="5.5"/>
<circle cx="416.7" cy="970.7" r="5.5"/>
<circle cx="408.3" cy="995.3" r="5.5"/>
<circle cx="409.1" cy="996.1" r="5.5"/>
<circle cx="409.8" cy="1001.4" r="5.5"/>
<circle cx="410.6" cy="1000.7" r="5.5"/>
<circle cx="414.4" cy="983.0" r="5.5"/>
<circle cx="426.7" cy="990.7" r="5.5"/>
<circle cx="429.8" cy="987.6" r="5.5"/>
<circle cx="432.9" cy="978.4" r="5.5"/>
<circle cx="436.0" cy="945.3" r="5.5"/>
<circle cx="440.6" cy="968.4" r="5.5"/>
<circle cx="443.6" cy="983.0" r="5.5"/>
<circle cx="448.2" cy="966.1" r="5.5"/>
<circle cx="449.0" cy="966.9" r="5.5"/>
<circle cx="449.8" cy="970.7" r="5.5"/>
<circle cx="450.6" cy="969.9" r="5.5"/>
<circle cx="451.3" cy="976.8" r="5.5"/>
<circle cx="446.7" cy="958.4" r="5.5"/>
<circle cx="449.8" cy="935.3" r="5.5"/>
<circle cx="454.4" cy="983.8" r="5.5"/>
<circle cx="460.5" cy="941.5" r="5.5"/>
<circle cx="462.1" cy="952.3" r="5.5"/>
<circle cx="465.2" cy="969.2" r="5.5"/>
<circle cx="469.8" cy="973.8" r="5.5"/>
<circle cx="471.3" cy="956.9" r="5.5"/>
<circle cx="475.9" cy="918.4" r="5.5"/>
<circle cx="480.5" cy="928.4" r="5.5"/>
<circle cx="483.6" cy="958.4" r="5.5"/>
<circle cx="486.7" cy="946.1" r="5.5"/>
<circle cx="488.2" cy="973.8" r="5.5"/>
<circle cx="489.7" cy="921.5" r="5.5"/>
<circle cx="492.8" cy="936.9" r="5.5"/>
<circle cx="497.4" cy="963.0" r="5.5"/>
<circle cx="499.0" cy="955.3" r="5.5"/>
<circle cx="499.7" cy="956.1" r="5.5"/>
<circle cx="502.0" cy="936.9" r="5.5"/>
<circle cx="502.8" cy="937.7" r="5.5"/>
<circle cx="503.6" cy="926.1" r="5.5"/>
<circle cx="509.7" cy="949.2" r="5.5"/>
<circle cx="511.3" cy="959.9" r="5.5"/>
<circle cx="514.3" cy="920.0" r="5.5"/>
<circle cx="517.4" cy="909.2" r="5.5"/>
<circle cx="522.0" cy="940.0" r="5.5"/>
<circle cx="524.0" cy="905.2" r="5.5"/>
<circle cx="525.1" cy="932.3" r="5.5"/>
<circle cx="532.8" cy="924.6" r="5.5"/>
<circle cx="535.8" cy="946.1" r="5.5"/>
<circle cx="536.6" cy="946.9" r="5.5"/>
<circle cx="537.4" cy="906.1" r="5.5"/>
<circle cx="542.0" cy="915.4" r="5.5"/>
<circle cx="513.7" cy="904.1" r="5.5"/>
<circle cx="575.6" cy="906.2" r="5.5"/>
<circle cx="572.5" cy="930.8" r="5.5"/>
<circle cx="564.4" cy="915.4" r="5.5"/>
<circle cx="560.8" cy="898.1" r="5.5"/>
<circle cx="561.3" cy="898.6" r="5.5"/>
<circle cx="558.7" cy="896.0" r="5.5"/>
<circle cx="556.7" cy="909.3" r="5.5"/>
<circle cx="547.5" cy="900.1" r="5.5"/>
<circle cx="546.5" cy="912.4" r="5.5"/>
<circle cx="547.0" cy="912.9" r="5.5"/>
<circle cx="547.5" cy="940.0" r="5.5"/>
<circle cx="420.3" cy="987.3" r="5.5"/>
<circle cx="547.9" cy="908.6" r="5.5"/>
<circle cx="537.0" cy="914.7" r="5.5"/>
<circle cx="505.0" cy="938.8" r="5.5"/>
<circle cx="523.9" cy="935.8" r="5.5"/>
<circle cx="319.4" cy="1011.4" r="5.5"/>
<circle cx="387.4" cy="1007.1" r="5.5"/>
<circle cx="435.7" cy="978.0" r="5.5"/>
<circle cx="457.7" cy="939.4" r="5.5"/>
<circle cx="357.8" cy="1001.9" r="5.5"/>
<circle cx="343.1" cy="1021.6" r="5.5"/>
<circle cx="308.4" cy="1028.1" r="5.5"/>
<circle cx="508.1" cy="944.1" r="5.5"/>
<circle cx="376.5" cy="998.4" r="5.5"/>
<circle cx="324.1" cy="1037.7" r="5.5"/>
<circle cx="435.4" cy="969.1" r="5.5"/>
<circle cx="521.7" cy="908.3" r="5.5"/>
<circle cx="356.5" cy="1018.9" r="5.5"/>
<circle cx="306.1" cy="1041.7" r="5.5"/>
<circle cx="328.7" cy="1012.6" r="5.5"/>
<circle cx="477.8" cy="926.0" r="5.5"/>
<circle cx="467.3" cy="963.3" r="5.5"/>
<circle cx="349.6" cy="1027.4" r="5.5"/>
<circle cx="358.1" cy="1023.7" r="5.5"/>
<circle cx="509.4" cy="922.9" r="5.5"/>
<circle cx="411.3" cy="985.8" r="5.5"/>
<circle cx="324.7" cy="1036.9" r="5.5"/>
<circle cx="413.5" cy="996.4" r="5.5"/>
<circle cx="522.0" cy="915.5" r="5.5"/>
<circle cx="482.3" cy="925.8" r="5.5"/>
<circle cx="303.8" cy="1041.9" r="5.5"/>
<circle cx="381.6" cy="999.2" r="5.5"/>
<circle cx="422.1" cy="984.9" r="5.5"/>
<circle cx="343.6" cy="1048.8" r="5.5"/>
<circle cx="394.2" cy="1001.8" r="5.5"/>
<circle cx="514.4" cy="904.9" r="5.5"/>
<circle cx="407.5" cy="960.1" r="5.5"/>
<circle cx="549.4" cy="913.5" r="5.5"/>
<circle cx="332.0" cy="1022.7" r="5.5"/>
<circle cx="454.3" cy="954.2" r="5.5"/>
<circle cx="319.4" cy="1025.4" r="5.5"/>
<circle cx="514.7" cy="914.4" r="5.5"/>
<circle cx="435.2" cy="982.6" r="5.5"/>
<circle cx="464.7" cy="951.1" r="5.5"/>
<circle cx="538.4" cy="951.9" r="5.5"/>
<circle cx="374.9" cy="1007.4" r="5.5"/>
<circle cx="390.9" cy="1016.1" r="5.5"/>
<circle cx="495.0" cy="956.9" r="5.5"/>
<circle cx="365.2" cy="1020.8" r="5.5"/>
<circle cx="336.4" cy="1041.9" r="5.5"/>
<circle cx="334.8" cy="1004.9" r="5.5"/>
<circle cx="381.3" cy="1006.9" r="5.5"/>
<circle cx="496.8" cy="960.2" r="5.5"/>
<circle cx="331.3" cy="1021.1" r="5.5"/>
<circle cx="375.6" cy="1000.7" r="5.5"/>
<circle cx="340.7" cy="1040.0" r="5.5"/>
<circle cx="530.9" cy="941.4" r="5.5"/>
<circle cx="487.2" cy="947.8" r="5.5"/>
<circle cx="354.3" cy="1021.9" r="5.5"/>
<circle cx="433.4" cy="972.8" r="5.5"/>
<circle cx="553.0" cy="909.7" r="5.5"/>
<circle cx="532.5" cy="926.3" r="5.5"/>
<circle cx="503.7" cy="939.6" r="5.5"/>
<circle cx="494.9" cy="959.5" r="5.5"/>
<circle cx="549.5" cy="910.4" r="5.5"/>
<circle cx="476.5" cy="977.6" r="5.5"/>
<circle cx="549.1" cy="910.7" r="5.5"/>
<circle cx="528.1" cy="940.7" r="5.5"/>
<circle cx="542.6" cy="912.4" r="5.5"/>
<circle cx="523.4" cy="937.2" r="5.5"/>
<circle cx="491.1" cy="964.1" r="5.5"/>
<circle cx="538.6" cy="923.2" r="5.5"/>
<circle cx="521.8" cy="905.4" r="5.5"/>
<circle cx="467.9" cy="978.1" r="5.5"/>
<circle cx="508.2" cy="921.5" r="5.5"/>
<circle cx="543.4" cy="903.5" r="5.5"/>
<circle cx="545.0" cy="901.7" r="5.5"/>
<circle cx="499.5" cy="936.4" r="5.5"/>
</g>
<line x1="124.50" y1="1073.55" x2="662.30" y2="852.07" stroke="#b6b6b6" stroke-width="2.3" stroke-dasharray="9.2 9.9" stroke-dashoffset="1.6"/>
</g>
<rect x="124.50" y="741.50" width="537.80" height="443.30" fill="none" stroke="#000" stroke-width="2.5"/>
<line x1="193.30" y1="1184.80" x2="193.30" y2="1201.10" stroke="#000" stroke-width="2.2" />
<text x="193.30" y="1240.40" font-size="25.25" text-anchor="middle" >6</text>
<line x1="293.00" y1="1184.80" x2="293.00" y2="1201.10" stroke="#000" stroke-width="2.2" />
<text x="293.00" y="1240.40" font-size="25.25" text-anchor="middle" >8</text>
<line x1="392.70" y1="1184.80" x2="392.70" y2="1201.10" stroke="#000" stroke-width="2.2" />
<text x="392.70" y="1240.40" font-size="25.25" text-anchor="middle" >10</text>
<line x1="492.40" y1="1184.80" x2="492.40" y2="1201.10" stroke="#000" stroke-width="2.2" />
<text x="492.40" y="1240.40" font-size="25.25" text-anchor="middle" >12</text>
<line x1="592.10" y1="1184.80" x2="592.10" y2="1201.10" stroke="#000" stroke-width="2.2" />
<text x="592.10" y="1240.40" font-size="25.25" text-anchor="middle" >14</text>
<line x1="108.20" y1="1168.40" x2="124.50" y2="1168.40" stroke="#000" stroke-width="2.2" />
<text x="88.50" y="1168.40" font-size="25.25" text-anchor="middle" transform="rotate(-90 88.50 1168.40)" >0</text>
<line x1="108.20" y1="1065.75" x2="124.50" y2="1065.75" stroke="#000" stroke-width="2.2" />
<text x="88.50" y="1065.75" font-size="25.25" text-anchor="middle" transform="rotate(-90 88.50 1065.75)" >5</text>
<line x1="108.20" y1="963.10" x2="124.50" y2="963.10" stroke="#000" stroke-width="2.2" />
<text x="88.50" y="963.10" font-size="25.25" text-anchor="middle" transform="rotate(-90 88.50 963.10)" >10</text>
<line x1="108.20" y1="860.45" x2="124.50" y2="860.45" stroke="#000" stroke-width="2.2" />
<text x="88.50" y="860.45" font-size="25.25" text-anchor="middle" transform="rotate(-90 88.50 860.45)" >15</text>
<line x1="108.20" y1="757.80" x2="124.50" y2="757.80" stroke="#000" stroke-width="2.2" />
<text x="88.50" y="757.80" font-size="25.25" text-anchor="middle" transform="rotate(-90 88.50 757.80)" >20</text>
<text x="392.40" y="1294.30" font-size="25.25" text-anchor="middle" >True variances <tspan dx="1.5">–</tspan><tspan dx="1.5"> </tspan>log(σ<tspan dy="-13" font-size="17.5">2</tspan><tspan dy="13">)</tspan></text>
<text x="21.50" y="963.15" font-size="25.25" text-anchor="middle" transform="rotate(-90 21.50 963.15)" >Estimated variances <tspan dx="1.5">–</tspan><tspan dx="1.5"> </tspan>log(σ<tspan dy="-13" font-size="17.5">2</tspan><tspan dy="13">)</tspan></text>
<text x="-2.60" y="771.20" font-size="66.8" text-anchor="start" style="stroke-width:1.2px">D</text>
<g fill="#d3d3d3" stroke="#000" stroke-width="2.5" stroke-linejoin="miter">
<rect x="869.10" y="1161.79" width="55.36" height="6.41"/>
<rect x="924.46" y="1161.79" width="55.36" height="6.41"/>
<rect x="979.82" y="1116.90" width="55.36" height="51.30"/>
<rect x="1035.18" y="988.64" width="55.36" height="179.56"/>
<rect x="1090.54" y="757.77" width="55.36" height="410.43"/>
<rect x="1145.90" y="809.07" width="55.36" height="359.13"/>
<rect x="1201.26" y="1027.11" width="55.36" height="141.09"/>
<rect x="1256.62" y="1091.24" width="55.36" height="76.96"/>
<rect x="1311.98" y="1136.13" width="55.36" height="32.06"/>
</g>
<line x1="849.90" y1="783.42" x2="849.90" y2="1168.20" stroke="#000" stroke-width="2.3" stroke-linecap="square"/>
<line x1="833.60" y1="1168.20" x2="849.90" y2="1168.20" stroke="#000" stroke-width="2.2" />
<text x="813.40" y="1168.20" font-size="25.25" text-anchor="middle" transform="rotate(-90 813.40 1168.20)" >0</text>
<line x1="833.60" y1="1104.07" x2="849.90" y2="1104.07" stroke="#000" stroke-width="2.2" />
<text x="813.40" y="1104.07" font-size="25.25" text-anchor="middle" transform="rotate(-90 813.40 1104.07)" >10</text>
<line x1="833.60" y1="1039.94" x2="849.90" y2="1039.94" stroke="#000" stroke-width="2.2" />
<text x="813.40" y="1039.94" font-size="25.25" text-anchor="middle" transform="rotate(-90 813.40 1039.94)" >20</text>
<line x1="833.60" y1="975.81" x2="849.90" y2="975.81" stroke="#000" stroke-width="2.2" />
<text x="813.40" y="975.81" font-size="25.25" text-anchor="middle" transform="rotate(-90 813.40 975.81)" >30</text>
<line x1="833.60" y1="911.68" x2="849.90" y2="911.68" stroke="#000" stroke-width="2.2" />
<text x="813.40" y="911.68" font-size="25.25" text-anchor="middle" transform="rotate(-90 813.40 911.68)" >40</text>
<line x1="833.60" y1="847.55" x2="849.90" y2="847.55" stroke="#000" stroke-width="2.2" />
<text x="813.40" y="847.55" font-size="25.25" text-anchor="middle" transform="rotate(-90 813.40 847.55)" >50</text>
<line x1="833.60" y1="783.42" x2="849.90" y2="783.42" stroke="#000" stroke-width="2.2" />
<text x="813.40" y="783.42" font-size="25.25" text-anchor="middle" transform="rotate(-90 813.40 783.42)" >60</text>
<line x1="849.90" y1="1184.80" x2="1387.20" y2="1184.80" stroke="#000" stroke-width="2.3" stroke-linecap="square"/>
<line x1="979.70" y1="1184.80" x2="979.70" y2="1201.10" stroke="#000" stroke-width="2.2" />
<text x="979.70" y="1240.40" font-size="25.25" text-anchor="middle" >0.0001</text>
<line x1="1172.80" y1="1184.80" x2="1172.80" y2="1201.10" stroke="#000" stroke-width="2.2" />
<text x="1172.80" y="1240.40" font-size="25.25" text-anchor="middle" >0.0005</text>
<line x1="1366.80" y1="1184.80" x2="1366.80" y2="1201.10" stroke="#000" stroke-width="2.2" />
<text x="1366.80" y="1240.40" font-size="25.25" text-anchor="middle" >0.0025</text>
<text x="1118.65" y="1294.30" font-size="25.25" text-anchor="middle" >Estimated sampling rates <tspan dx="1.5">–</tspan><tspan dx="1.5"> </tspan>q</text>
<text x="754.50" y="963.15" font-size="25.25" text-anchor="middle" transform="rotate(-90 754.50 963.15)" >Frequency</text>
<text x="725.90" y="771.20" font-size="66.8" text-anchor="start" style="stroke-width:1.2px">E</text>
<g fill="#d3d3d3" stroke="#000" stroke-width="2.5" stroke-linejoin="miter">
<rect x="1593.70" y="1167.97" width="27.73" height="0.23"/>
<rect x="1621.43" y="1167.74" width="27.73" height="0.46"/>
<rect x="1649.16" y="1166.82" width="27.73" height="1.38"/>
<rect x="1676.89" y="1159.47" width="27.73" height="8.73"/>
<rect x="1704.62" y="1139.49" width="27.73" height="28.71"/>
<rect x="1732.35" y="1089.18" width="27.73" height="79.02"/>
<rect x="1760.08" y="999.83" width="27.73" height="168.37"/>
<rect x="1787.81" y="884.75" width="27.73" height="283.45"/>
<rect x="1815.54" y="789.42" width="27.73" height="378.78"/>
<rect x="1843.27" y="757.50" width="27.73" height="410.70"/>
<rect x="1871.00" y="792.87" width="27.73" height="375.33"/>
<rect x="1898.73" y="897.84" width="27.73" height="270.36"/>
<rect x="1926.46" y="1004.65" width="27.73" height="163.55"/>
<rect x="1954.19" y="1085.74" width="27.73" height="82.46"/>
<rect x="1981.92" y="1134.66" width="27.73" height="33.54"/>
<rect x="2009.65" y="1158.09" width="27.73" height="10.11"/>
<rect x="2037.38" y="1166.59" width="27.73" height="1.61"/>
<rect x="2065.11" y="1167.97" width="27.73" height="0.23"/>
</g>
<line x1="1574.90" y1="823.65" x2="1574.90" y2="1168.20" stroke="#000" stroke-width="2.3" stroke-linecap="square"/>
<line x1="1558.60" y1="1168.20" x2="1574.90" y2="1168.20" stroke="#000" stroke-width="2.2" />
<text x="1538.40" y="1168.20" font-size="25.25" text-anchor="middle" transform="rotate(-90 1538.40 1168.20)" >0</text>
<line x1="1558.60" y1="1053.35" x2="1574.90" y2="1053.35" stroke="#000" stroke-width="2.2" />
<text x="1538.40" y="1053.35" font-size="25.25" text-anchor="middle" transform="rotate(-90 1538.40 1053.35)" >500</text>
<line x1="1558.60" y1="938.50" x2="1574.90" y2="938.50" stroke="#000" stroke-width="2.2" />
<text x="1538.40" y="938.50" font-size="25.25" text-anchor="middle" transform="rotate(-90 1538.40 938.50)" >1000</text>
<line x1="1558.60" y1="823.65" x2="1574.90" y2="823.65" stroke="#000" stroke-width="2.2" />
<text x="1538.40" y="823.65" font-size="25.25" text-anchor="middle" transform="rotate(-90 1538.40 823.65)" >1500</text>
<line x1="1732.30" y1="1184.80" x2="2092.70" y2="1184.80" stroke="#000" stroke-width="2.3" stroke-linecap="square"/>
<line x1="1732.30" y1="1184.80" x2="1732.30" y2="1201.10" stroke="#000" stroke-width="2.2" />
<text x="1732.30" y="1240.40" font-size="25.25" text-anchor="middle" >0.000025</text>
<line x1="1816.00" y1="1184.80" x2="1816.00" y2="1201.10" stroke="#000" stroke-width="2.2" />
<line x1="1912.50" y1="1184.80" x2="1912.50" y2="1201.10" stroke="#000" stroke-width="2.2" />
<text x="1912.50" y="1240.40" font-size="25.25" text-anchor="middle" >0.0005</text>
<line x1="2009.20" y1="1184.80" x2="2009.20" y2="1201.10" stroke="#000" stroke-width="2.2" />
<line x1="2092.70" y1="1184.80" x2="2092.70" y2="1201.10" stroke="#000" stroke-width="2.2" />
<text x="2090.30" y="1240.40" font-size="25.25" text-anchor="middle" >0.01</text>
<text x="1843.55" y="1294.30" font-size="25.25" text-anchor="middle" >Distribution of true sampling rates</text>
<text x="1479.50" y="963.15" font-size="25.25" text-anchor="middle" transform="rotate(-90 1479.50 963.15)" >Frequency</text>
<text x="1458.20" y="771.20" font-size="66.8" text-anchor="start" style="stroke-width:1.2px">F</text>
</svg>
</body></html>
